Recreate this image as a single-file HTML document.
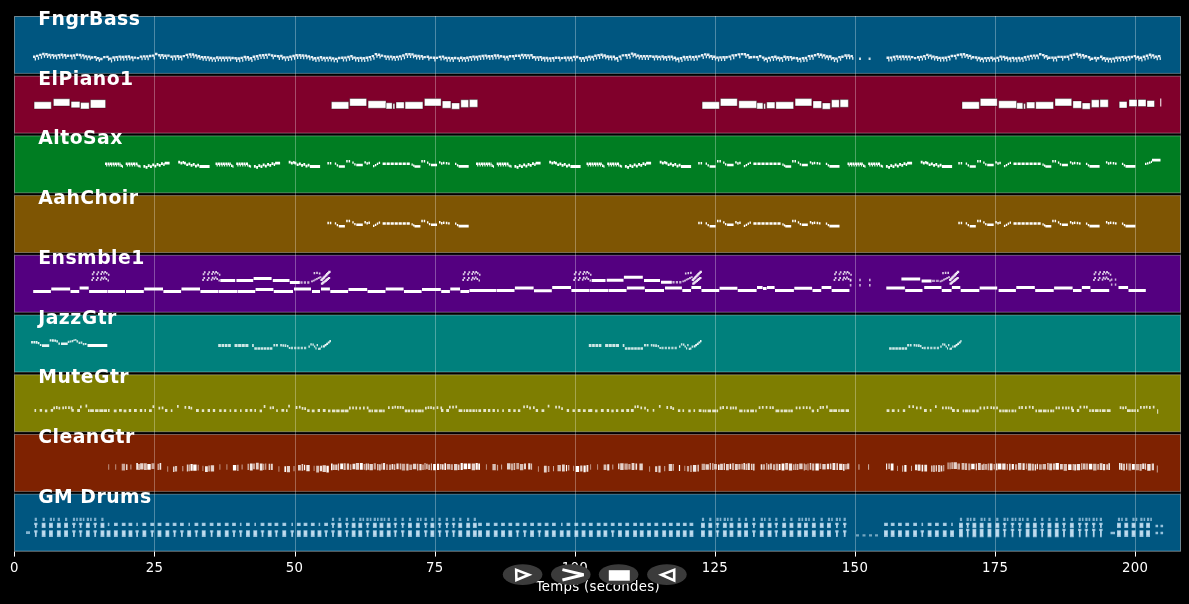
<!DOCTYPE html>
<html lang="fr"><head><meta charset="utf-8"><title>Piano roll</title>
<style>
html,body{margin:0;padding:0;background:#000;overflow:hidden}
svg{display:block;will-change:transform}
text{font-family:"DejaVu Sans","Liberation Sans",sans-serif;fill:#fff}
.lab{font-weight:bold;font-size:18.8px;letter-spacing:.5px}
.tk{font-size:13.3px;text-anchor:middle;letter-spacing:.3px}
</style></head><body>
<svg width="1189" height="604" viewBox="0 0 1189 604">
<rect width="1189" height="604" fill="#000"/>
<g stroke="#fff" stroke-opacity=".32" stroke-width="1">
<rect x="14.5" y="16.5" width="1166" height="56.9" fill="#005680"/>
<rect x="14.5" y="76.2" width="1166" height="56.9" fill="#80002b"/>
<rect x="14.5" y="135.9" width="1166" height="56.9" fill="#007d22"/>
<rect x="14.5" y="195.6" width="1166" height="56.9" fill="#7e5503"/>
<rect x="14.5" y="255.3" width="1166" height="56.9" fill="#540080"/>
<rect x="14.5" y="315.1" width="1166" height="56.9" fill="#00807c"/>
<rect x="14.5" y="374.8" width="1166" height="56.9" fill="#7e7e01"/>
<rect x="14.5" y="434.5" width="1166" height="56.9" fill="#7e2201"/>
<rect x="14.5" y="494.2" width="1166" height="56.9" fill="#005680"/>
</g>
<rect x="14.5" y="16.5" width="1166" height="535" fill="none" stroke="#fff" stroke-opacity=".16"/>
<g stroke="#fff" stroke-opacity=".3" stroke-width="1">
<line x1="154.5" y1="16" x2="154.5" y2="551.6"/>
<line x1="295.5" y1="16" x2="295.5" y2="551.6"/>
<line x1="435.5" y1="16" x2="435.5" y2="551.6"/>
<line x1="575.5" y1="16" x2="575.5" y2="551.6"/>
<line x1="715.5" y1="16" x2="715.5" y2="551.6"/>
<line x1="855.5" y1="16" x2="855.5" y2="551.6"/>
<line x1="995.5" y1="16" x2="995.5" y2="551.6"/>
<line x1="1135.5" y1="16" x2="1135.5" y2="551.6"/>
</g>
<path fill="#fff" fill-opacity=".9" d="M33 55.5h2.5v2.4h-2.5zM34.7 57.8h1.3v2.7h-1.3zM36 54.7h2.5v2.4h-2.5zM37.8 57h1.3v2.7h-1.3zM39.1 53.7h2.5v2.4h-2.5zM40.8 56h1.3v2.7h-1.3zM42.1 52.8h2.5v2.4h-2.5zM43.8 55.1h1.3v2.7h-1.3zM45.2 53.1h2.5v2.4h-2.5zM46.9 55.4h1.3v2.7h-1.3zM48.2 53.8h2.5v2.4h-2.5zM49.9 56h1.3v2.7h-1.3zM51.3 53.9h2.5v2.4h-2.5zM53 56.1h1.3v2.7h-1.3zM54.3 54.4h2.5v2.4h-2.5zM56 56.7h1.3v2.7h-1.3zM57.4 53.9h2.5v2.4h-2.5zM59.1 56.1h1.3v2.7h-1.3zM60.4 53.6h2.5v2.4h-2.5zM62.1 55.9h1.3v2.7h-1.3zM63.5 54.1h2.5v2.4h-2.5zM65.2 56.4h1.3v2.7h-1.3zM66.5 54.5h2.5v2.4h-2.5zM69.6 54.4h2.5v2.4h-2.5zM71.3 56.7h1.3v2.7h-1.3zM72.6 54.3h2.5v2.4h-2.5zM74.3 56.6h1.3v2.7h-1.3zM75.7 53.5h2.5v2.4h-2.5zM78.7 53.8h2.5v2.4h-2.5zM80.4 56.1h1.3v2.7h-1.3zM81.8 54.2h2.5v2.4h-2.5zM83.5 56.5h1.3v2.7h-1.3zM84.8 55.2h2.5v2.4h-2.5zM86.5 57.5h1.3v2.7h-1.3zM87.9 55.4h2.5v2.4h-2.5zM89.6 57.6h1.3v2.7h-1.3zM90.9 56.3h2.5v2.4h-2.5zM94 55.9h2.5v2.4h-2.5zM95.7 58.2h1.3v2.7h-1.3zM97 56.9h2.5v2.4h-2.5zM98.7 59.1h1.3v2.7h-1.3zM100.1 57.8h2.5v2.4h-2.5zM103.1 55.9h2.5v2.4h-2.5zM106.2 55.7h2.5v2.4h-2.5zM107.9 58h1.3v2.7h-1.3zM109.2 57.4h2.5v2.4h-2.5zM110.9 59.7h1.3v2.7h-1.3zM112.3 56.3h2.5v2.4h-2.5zM114 58.5h1.3v2.7h-1.3zM115.3 55.9h2.5v2.4h-2.5zM117 58.2h1.3v2.7h-1.3zM118.4 55.4h2.5v2.4h-2.5zM120.1 57.7h1.3v2.7h-1.3zM121.4 55.8h2.5v2.4h-2.5zM123.1 58.1h1.3v2.7h-1.3zM124.5 55.6h2.5v2.4h-2.5zM126.2 57.9h1.3v2.7h-1.3zM127.5 55.3h2.5v2.4h-2.5zM129.2 57.5h1.3v2.7h-1.3zM130.6 56.2h2.5v2.4h-2.5zM132.3 58.5h1.3v2.7h-1.3zM133.6 56.4h2.5v2.4h-2.5zM136.7 56.9h2.5v2.4h-2.5zM139.7 55.4h2.5v2.4h-2.5zM141.4 57.6h1.3v2.7h-1.3zM142.8 55.2h2.5v2.4h-2.5zM144.5 57.4h1.3v2.7h-1.3zM145.8 55.2h2.5v2.4h-2.5zM147.5 57.5h1.3v2.7h-1.3zM148.9 54.8h2.5v2.4h-2.5zM151.9 54.4h2.5v2.4h-2.5zM153.6 56.7h1.3v2.7h-1.3zM155 52.8h2.5v2.4h-2.5zM158.1 54h2.5v2.4h-2.5zM159.8 56.3h1.3v2.7h-1.3zM161.1 54.1h2.5v2.4h-2.5zM162.8 56.3h1.3v2.7h-1.3zM164.2 54.6h2.5v2.4h-2.5zM165.9 56.9h1.3v2.7h-1.3zM167.2 54.4h2.5v2.4h-2.5zM170.3 55.6h2.5v2.4h-2.5zM172 57.8h1.3v2.7h-1.3zM173.3 55.2h2.5v2.4h-2.5zM175 57.5h1.3v2.7h-1.3zM176.4 55.1h2.5v2.4h-2.5zM178.1 57.4h1.3v2.7h-1.3zM179.4 55.5h2.5v2.4h-2.5zM181.1 57.8h1.3v2.7h-1.3zM182.5 54.9h2.5v2.4h-2.5zM185.5 53.7h2.5v2.4h-2.5zM187.2 55.9h1.3v2.7h-1.3zM188.6 53.2h2.5v2.4h-2.5zM190.3 55.4h1.3v2.7h-1.3zM191.6 53.3h2.5v2.4h-2.5zM193.3 55.6h1.3v2.7h-1.3zM194.7 54.2h2.5v2.4h-2.5zM196.4 56.5h1.3v2.7h-1.3zM197.7 55h2.5v2.4h-2.5zM199.4 57.2h1.3v2.7h-1.3zM200.8 55.9h2.5v2.4h-2.5zM202.5 58.1h1.3v2.7h-1.3zM203.8 56h2.5v2.4h-2.5zM205.5 58.3h1.3v2.7h-1.3zM206.9 56.2h2.5v2.4h-2.5zM208.6 58.5h1.3v2.7h-1.3zM209.9 56.8h2.5v2.4h-2.5zM211.6 59h1.3v2.7h-1.3zM213 57.2h2.5v2.4h-2.5zM214.7 59.4h1.3v2.7h-1.3zM216 56.3h2.5v2.4h-2.5zM217.7 58.6h1.3v2.7h-1.3zM219.1 56.5h2.5v2.4h-2.5zM220.8 58.7h1.3v2.7h-1.3zM222.1 56.5h2.5v2.4h-2.5zM223.8 58.7h1.3v2.7h-1.3zM225.2 56.6h2.5v2.4h-2.5zM226.9 58.8h1.3v2.7h-1.3zM228.2 56.4h2.5v2.4h-2.5zM229.9 58.6h1.3v2.7h-1.3zM231.3 56.8h2.5v2.4h-2.5zM234.3 57h2.5v2.4h-2.5zM236 59.2h1.3v2.7h-1.3zM237.4 57.3h2.5v2.4h-2.5zM239.1 59.5h1.3v2.7h-1.3zM240.4 56.7h2.5v2.4h-2.5zM242.1 59h1.3v2.7h-1.3zM243.5 55.8h2.5v2.4h-2.5zM245.2 58h1.3v2.7h-1.3zM246.5 56h2.5v2.4h-2.5zM248.2 58.2h1.3v2.7h-1.3zM249.6 57.1h2.5v2.4h-2.5zM251.3 59.3h1.3v2.7h-1.3zM252.6 55.6h2.5v2.4h-2.5zM254.3 57.9h1.3v2.7h-1.3zM255.7 55h2.5v2.4h-2.5zM257.4 57.2h1.3v2.7h-1.3zM258.7 54.2h2.5v2.4h-2.5zM260.4 56.4h1.3v2.7h-1.3zM261.8 54h2.5v2.4h-2.5zM263.5 56.3h1.3v2.7h-1.3zM264.8 53.7h2.5v2.4h-2.5zM266.5 56h1.3v2.7h-1.3zM267.9 53.4h2.5v2.4h-2.5zM270.9 54.3h2.5v2.4h-2.5zM272.6 56.6h1.3v2.7h-1.3zM274 54.7h2.5v2.4h-2.5zM277 55.1h2.5v2.4h-2.5zM278.7 57.3h1.3v2.7h-1.3zM280.1 54.8h2.5v2.4h-2.5zM281.8 57.1h1.3v2.7h-1.3zM283.1 56.2h2.5v2.4h-2.5zM284.8 58.5h1.3v2.7h-1.3zM286.2 56.2h2.5v2.4h-2.5zM287.9 58.4h1.3v2.7h-1.3zM289.2 55.5h2.5v2.4h-2.5zM290.9 57.8h1.3v2.7h-1.3zM292.3 54.8h2.5v2.4h-2.5zM294 57.1h1.3v2.7h-1.3zM295.3 54h2.5v2.4h-2.5zM297 56.2h1.3v2.7h-1.3zM298.4 54h2.5v2.4h-2.5zM300.1 56.3h1.3v2.7h-1.3zM301.4 54.3h2.5v2.4h-2.5zM303.1 56.6h1.3v2.7h-1.3zM304.5 54.4h2.5v2.4h-2.5zM306.2 56.6h1.3v2.7h-1.3zM307.5 55.2h2.5v2.4h-2.5zM309.2 57.5h1.3v2.7h-1.3zM310.6 55.9h2.5v2.4h-2.5zM312.3 58.2h1.3v2.7h-1.3zM313.6 57h2.5v2.4h-2.5zM315.3 59.2h1.3v2.7h-1.3zM316.7 56.8h2.5v2.4h-2.5zM318.4 59.1h1.3v2.7h-1.3zM319.7 56.1h2.5v2.4h-2.5zM321.4 58.4h1.3v2.7h-1.3zM322.8 56.8h2.5v2.4h-2.5zM324.5 59.1h1.3v2.7h-1.3zM325.8 56.7h2.5v2.4h-2.5zM327.5 58.9h1.3v2.7h-1.3zM328.9 56.6h2.5v2.4h-2.5zM330.6 58.8h1.3v2.7h-1.3zM331.9 57.2h2.5v2.4h-2.5zM333.6 59.5h1.3v2.7h-1.3zM335 57.7h2.5v2.4h-2.5zM336.7 59.9h1.3v2.7h-1.3zM338 56.8h2.5v2.4h-2.5zM341.1 56.6h2.5v2.4h-2.5zM342.8 58.9h1.3v2.7h-1.3zM344.1 56.4h2.5v2.4h-2.5zM345.8 58.7h1.3v2.7h-1.3zM347.2 55.8h2.5v2.4h-2.5zM348.9 58.1h1.3v2.7h-1.3zM350.2 55.1h2.5v2.4h-2.5zM351.9 57.3h1.3v2.7h-1.3zM353.3 56.4h2.5v2.4h-2.5zM355 58.7h1.3v2.7h-1.3zM356.3 56.9h2.5v2.4h-2.5zM358 59.2h1.3v2.7h-1.3zM359.4 56.7h2.5v2.4h-2.5zM361.1 59h1.3v2.7h-1.3zM362.4 57.1h2.5v2.4h-2.5zM364.1 59.4h1.3v2.7h-1.3zM365.5 56.6h2.5v2.4h-2.5zM367.2 58.8h1.3v2.7h-1.3zM368.5 55.9h2.5v2.4h-2.5zM370.2 58.1h1.3v2.7h-1.3zM371.6 54.9h2.5v2.4h-2.5zM373.3 57.1h1.3v2.7h-1.3zM374.6 52.9h2.5v2.4h-2.5zM376.3 55.1h1.3v2.7h-1.3zM377.7 53.6h2.5v2.4h-2.5zM379.4 55.9h1.3v2.7h-1.3zM380.7 54.4h2.5v2.4h-2.5zM383.8 55.2h2.5v2.4h-2.5zM385.5 57.4h1.3v2.7h-1.3zM386.8 55.4h2.5v2.4h-2.5zM388.5 57.6h1.3v2.7h-1.3zM389.9 55.4h2.5v2.4h-2.5zM391.6 57.7h1.3v2.7h-1.3zM392.9 56.1h2.5v2.4h-2.5zM394.6 58.3h1.3v2.7h-1.3zM396 55.7h2.5v2.4h-2.5zM397.7 57.9h1.3v2.7h-1.3zM399 55.2h2.5v2.4h-2.5zM400.7 57.5h1.3v2.7h-1.3zM402.1 54.3h2.5v2.4h-2.5zM403.8 56.5h1.3v2.7h-1.3zM405.1 53.1h2.5v2.4h-2.5zM406.8 55.3h1.3v2.7h-1.3zM408.2 53h2.5v2.4h-2.5zM409.9 55.3h1.3v2.7h-1.3zM411.2 53.2h2.5v2.4h-2.5zM412.9 55.5h1.3v2.7h-1.3zM414.3 54.6h2.5v2.4h-2.5zM416 56.9h1.3v2.7h-1.3zM417.3 54.8h2.5v2.4h-2.5zM419 57h1.3v2.7h-1.3zM420.4 55.1h2.5v2.4h-2.5zM422.1 57.3h1.3v2.7h-1.3zM423.4 55.9h2.5v2.4h-2.5zM426.5 55.5h2.5v2.4h-2.5zM428.2 57.7h1.3v2.7h-1.3zM429.5 56.4h2.5v2.4h-2.5zM432.6 56.6h2.5v2.4h-2.5zM434.3 58.9h1.3v2.7h-1.3zM435.6 56.7h2.5v2.4h-2.5zM438.7 55.7h2.5v2.4h-2.5zM440.4 57.9h1.3v2.7h-1.3zM441.7 55.4h2.5v2.4h-2.5zM443.4 57.6h1.3v2.7h-1.3zM444.8 56.7h2.5v2.4h-2.5zM446.5 59h1.3v2.7h-1.3zM447.8 56.7h2.5v2.4h-2.5zM449.5 59h1.3v2.7h-1.3zM450.9 57h2.5v2.4h-2.5zM452.6 59.3h1.3v2.7h-1.3zM453.9 56.8h2.5v2.4h-2.5zM457 57.2h2.5v2.4h-2.5zM458.7 59.4h1.3v2.7h-1.3zM460 56.6h2.5v2.4h-2.5zM461.7 58.9h1.3v2.7h-1.3zM463.1 57.1h2.5v2.4h-2.5zM464.8 59.4h1.3v2.7h-1.3zM466.1 56.6h2.5v2.4h-2.5zM467.8 58.8h1.3v2.7h-1.3zM469.2 55.9h2.5v2.4h-2.5zM470.9 58.2h1.3v2.7h-1.3zM472.2 55.4h2.5v2.4h-2.5zM473.9 57.7h1.3v2.7h-1.3zM475.3 55.8h2.5v2.4h-2.5zM477 58h1.3v2.7h-1.3zM478.3 55.2h2.5v2.4h-2.5zM480 57.4h1.3v2.7h-1.3zM481.4 54.8h2.5v2.4h-2.5zM483.1 57.1h1.3v2.7h-1.3zM484.4 54.4h2.5v2.4h-2.5zM486.1 56.6h1.3v2.7h-1.3zM487.5 55h2.5v2.4h-2.5zM489.2 57.3h1.3v2.7h-1.3zM490.5 54.9h2.5v2.4h-2.5zM492.2 57.1h1.3v2.7h-1.3zM493.6 54.3h2.5v2.4h-2.5zM495.3 56.6h1.3v2.7h-1.3zM496.6 54.3h2.5v2.4h-2.5zM498.3 56.5h1.3v2.7h-1.3zM499.7 55.1h2.5v2.4h-2.5zM502.7 55.5h2.5v2.4h-2.5zM504.4 57.8h1.3v2.7h-1.3zM505.8 55.8h2.5v2.4h-2.5zM507.5 58h1.3v2.7h-1.3zM508.8 55h2.5v2.4h-2.5zM511.9 55.1h2.5v2.4h-2.5zM513.6 57.4h1.3v2.7h-1.3zM514.9 54.6h2.5v2.4h-2.5zM518 54.5h2.5v2.4h-2.5zM519.7 56.7h1.3v2.7h-1.3zM521 53.8h2.5v2.4h-2.5zM522.7 56h1.3v2.7h-1.3zM524.1 54h2.5v2.4h-2.5zM525.8 56.2h1.3v2.7h-1.3zM527.1 54.2h2.5v2.4h-2.5zM528.8 56.5h1.3v2.7h-1.3zM530.2 54.1h2.5v2.4h-2.5zM531.9 56.3h1.3v2.7h-1.3zM533.2 55.9h2.5v2.4h-2.5zM534.9 58.1h1.3v2.7h-1.3zM536.3 56.2h2.5v2.4h-2.5zM538 58.4h1.3v2.7h-1.3zM539.3 55.9h2.5v2.4h-2.5zM541 58.2h1.3v2.7h-1.3zM542.4 56.8h2.5v2.4h-2.5zM544.1 59h1.3v2.7h-1.3zM545.4 56.8h2.5v2.4h-2.5zM547.1 59h1.3v2.7h-1.3zM548.5 57.2h2.5v2.4h-2.5zM550.2 59.4h1.3v2.7h-1.3zM551.5 56.9h2.5v2.4h-2.5zM553.2 59.1h1.3v2.7h-1.3zM554.6 56.6h2.5v2.4h-2.5zM557.6 56.6h2.5v2.4h-2.5zM559.3 58.9h1.3v2.7h-1.3zM560.7 56.9h2.5v2.4h-2.5zM563.7 56.6h2.5v2.4h-2.5zM565.4 58.8h1.3v2.7h-1.3zM566.8 56.4h2.5v2.4h-2.5zM568.5 58.6h1.3v2.7h-1.3zM569.8 56.6h2.5v2.4h-2.5zM571.5 58.9h1.3v2.7h-1.3zM572.9 55.7h2.5v2.4h-2.5zM574.6 58h1.3v2.7h-1.3zM575.9 55.8h2.5v2.4h-2.5zM579 57.1h2.5v2.4h-2.5zM580.7 59.4h1.3v2.7h-1.3zM582 57.1h2.5v2.4h-2.5zM583.7 59.3h1.3v2.7h-1.3zM585.1 56.3h2.5v2.4h-2.5zM586.8 58.5h1.3v2.7h-1.3zM588.1 55.5h2.5v2.4h-2.5zM589.8 57.7h1.3v2.7h-1.3zM591.2 55.8h2.5v2.4h-2.5zM592.9 58.1h1.3v2.7h-1.3zM594.2 54.6h2.5v2.4h-2.5zM595.9 56.9h1.3v2.7h-1.3zM597.3 54.1h2.5v2.4h-2.5zM599 56.3h1.3v2.7h-1.3zM600.3 53.6h2.5v2.4h-2.5zM602 55.8h1.3v2.7h-1.3zM603.4 54.3h2.5v2.4h-2.5zM605.1 56.6h1.3v2.7h-1.3zM606.4 55.3h2.5v2.4h-2.5zM608.1 57.6h1.3v2.7h-1.3zM609.4 55.5h2.5v2.4h-2.5zM611.1 57.7h1.3v2.7h-1.3zM612.5 55.6h2.5v2.4h-2.5zM614.2 57.9h1.3v2.7h-1.3zM615.5 57h2.5v2.4h-2.5zM617.2 59.2h1.3v2.7h-1.3zM618.6 55.4h2.5v2.4h-2.5zM620.3 57.6h1.3v2.7h-1.3zM621.6 54.2h2.5v2.4h-2.5zM624.7 54h2.5v2.4h-2.5zM626.4 56.3h1.3v2.7h-1.3zM627.7 53.7h2.5v2.4h-2.5zM629.4 56h1.3v2.7h-1.3zM630.8 52.4h2.5v2.4h-2.5zM632.5 54.6h1.3v2.7h-1.3zM633.8 53.3h2.5v2.4h-2.5zM635.5 55.5h1.3v2.7h-1.3zM636.9 54.4h2.5v2.4h-2.5zM638.6 56.7h1.3v2.7h-1.3zM639.9 55h2.5v2.4h-2.5zM641.6 57.2h1.3v2.7h-1.3zM643 55h2.5v2.4h-2.5zM644.7 57.3h1.3v2.7h-1.3zM646 54.9h2.5v2.4h-2.5zM647.7 57.2h1.3v2.7h-1.3zM649.1 55.1h2.5v2.4h-2.5zM652.1 55.6h2.5v2.4h-2.5zM653.8 57.8h1.3v2.7h-1.3zM655.2 55.3h2.5v2.4h-2.5zM656.9 57.5h1.3v2.7h-1.3zM658.2 55.7h2.5v2.4h-2.5zM659.9 57.9h1.3v2.7h-1.3zM661.3 55.3h2.5v2.4h-2.5zM663 57.5h1.3v2.7h-1.3zM664.3 56h2.5v2.4h-2.5zM666 58.3h1.3v2.7h-1.3zM667.4 55.6h2.5v2.4h-2.5zM669.1 57.9h1.3v2.7h-1.3zM670.4 55.6h2.5v2.4h-2.5zM672.1 57.9h1.3v2.7h-1.3zM673.5 56.5h2.5v2.4h-2.5zM675.2 58.7h1.3v2.7h-1.3zM676.5 57.5h2.5v2.4h-2.5zM678.2 59.8h1.3v2.7h-1.3zM679.6 57.1h2.5v2.4h-2.5zM681.3 59.3h1.3v2.7h-1.3zM682.6 55.8h2.5v2.4h-2.5zM684.3 58.1h1.3v2.7h-1.3zM685.7 56.1h2.5v2.4h-2.5zM687.4 58.4h1.3v2.7h-1.3zM688.7 55.6h2.5v2.4h-2.5zM690.4 57.9h1.3v2.7h-1.3zM691.8 55.9h2.5v2.4h-2.5zM693.5 58.2h1.3v2.7h-1.3zM694.8 55.5h2.5v2.4h-2.5zM696.5 57.8h1.3v2.7h-1.3zM697.9 55.2h2.5v2.4h-2.5zM700.9 54h2.5v2.4h-2.5zM702.6 56.3h1.3v2.7h-1.3zM704 53.2h2.5v2.4h-2.5zM705.7 55.5h1.3v2.7h-1.3zM707 53.5h2.5v2.4h-2.5zM708.7 55.7h1.3v2.7h-1.3zM710.1 55h2.5v2.4h-2.5zM711.8 57.2h1.3v2.7h-1.3zM713.1 55.5h2.5v2.4h-2.5zM714.8 57.8h1.3v2.7h-1.3zM716.2 56.4h2.5v2.4h-2.5zM717.9 58.7h1.3v2.7h-1.3zM719.2 56.2h2.5v2.4h-2.5zM720.9 58.4h1.3v2.7h-1.3zM722.3 56h2.5v2.4h-2.5zM724 58.3h1.3v2.7h-1.3zM725.3 56.1h2.5v2.4h-2.5zM728.4 55.4h2.5v2.4h-2.5zM730.1 57.6h1.3v2.7h-1.3zM731.4 54.2h2.5v2.4h-2.5zM733.1 56.5h1.3v2.7h-1.3zM734.5 54.1h2.5v2.4h-2.5zM737.5 53.2h2.5v2.4h-2.5zM739.2 55.5h1.3v2.7h-1.3zM740.6 52.9h2.5v2.4h-2.5zM743.6 53h2.5v2.4h-2.5zM745.3 55.3h1.3v2.7h-1.3zM746.7 53.9h2.5v2.4h-2.5zM748.4 56.2h1.3v2.7h-1.3zM749.7 56.1h2.5v2.4h-2.5zM752.8 55.8h2.5v2.4h-2.5zM755.8 55.9h2.5v2.4h-2.5zM757.5 58.2h1.3v2.7h-1.3zM758.9 55.1h2.5v2.4h-2.5zM761.9 56.4h2.5v2.4h-2.5zM763.6 58.6h1.3v2.7h-1.3zM765 57.6h2.5v2.4h-2.5zM766.7 59.8h1.3v2.7h-1.3zM768 56.7h2.5v2.4h-2.5zM769.7 58.9h1.3v2.7h-1.3zM771.1 55.9h2.5v2.4h-2.5zM772.8 58.2h1.3v2.7h-1.3zM774.1 55.5h2.5v2.4h-2.5zM775.8 57.8h1.3v2.7h-1.3zM777.2 56.5h2.5v2.4h-2.5zM778.9 58.7h1.3v2.7h-1.3zM780.2 56.9h2.5v2.4h-2.5zM781.9 59.2h1.3v2.7h-1.3zM783.3 55.6h2.5v2.4h-2.5zM785 57.9h1.3v2.7h-1.3zM786.3 56h2.5v2.4h-2.5zM788 58.2h1.3v2.7h-1.3zM789.4 55.9h2.5v2.4h-2.5zM791.1 58.1h1.3v2.7h-1.3zM792.4 56.8h2.5v2.4h-2.5zM795.5 57.1h2.5v2.4h-2.5zM797.2 59.4h1.3v2.7h-1.3zM798.5 57.7h2.5v2.4h-2.5zM800.2 59.9h1.3v2.7h-1.3zM801.6 57h2.5v2.4h-2.5zM803.3 59.2h1.3v2.7h-1.3zM804.6 56.8h2.5v2.4h-2.5zM806.3 59h1.3v2.7h-1.3zM807.7 54.9h2.5v2.4h-2.5zM809.4 57.2h1.3v2.7h-1.3zM810.7 54.8h2.5v2.4h-2.5zM812.4 57h1.3v2.7h-1.3zM813.8 54.1h2.5v2.4h-2.5zM816.8 53h2.5v2.4h-2.5zM818.5 55.3h1.3v2.7h-1.3zM819.9 53.5h2.5v2.4h-2.5zM821.6 55.8h1.3v2.7h-1.3zM822.9 54.2h2.5v2.4h-2.5zM824.6 56.5h1.3v2.7h-1.3zM826 55.3h2.5v2.4h-2.5zM827.7 57.6h1.3v2.7h-1.3zM829 55.3h2.5v2.4h-2.5zM830.7 57.5h1.3v2.7h-1.3zM832.1 56.9h2.5v2.4h-2.5zM833.8 59.2h1.3v2.7h-1.3zM835.1 57.4h2.5v2.4h-2.5zM836.8 59.7h1.3v2.7h-1.3zM838.2 55.9h2.5v2.4h-2.5zM839.9 58.1h1.3v2.7h-1.3zM841.2 55.6h2.5v2.4h-2.5zM844.3 54.3h2.5v2.4h-2.5zM846 56.5h1.3v2.7h-1.3zM847.3 54.3h2.5v2.4h-2.5zM849 56.5h1.3v2.7h-1.3zM850.4 54.9h2.5v2.4h-2.5zM852.1 57.1h1.3v2.7h-1.3zM886.5 56.6h2.5v2.4h-2.5zM888.2 58.9h1.3v2.7h-1.3zM889.5 56.4h2.5v2.4h-2.5zM891.2 58.7h1.3v2.7h-1.3zM892.6 55.8h2.5v2.4h-2.5zM894.3 58.1h1.3v2.7h-1.3zM895.6 55.2h2.5v2.4h-2.5zM897.3 57.4h1.3v2.7h-1.3zM898.7 55.6h2.5v2.4h-2.5zM900.4 57.9h1.3v2.7h-1.3zM901.7 55.3h2.5v2.4h-2.5zM903.4 57.5h1.3v2.7h-1.3zM904.8 55.6h2.5v2.4h-2.5zM906.5 57.9h1.3v2.7h-1.3zM907.8 55.4h2.5v2.4h-2.5zM909.5 57.7h1.3v2.7h-1.3zM910.9 55.9h2.5v2.4h-2.5zM913.9 56.9h2.5v2.4h-2.5zM917 56.1h2.5v2.4h-2.5zM918.7 58.4h1.3v2.7h-1.3zM920 55.7h2.5v2.4h-2.5zM921.7 57.9h1.3v2.7h-1.3zM923.1 55h2.5v2.4h-2.5zM924.8 57.2h1.3v2.7h-1.3zM926.1 53.7h2.5v2.4h-2.5zM927.8 56h1.3v2.7h-1.3zM929.2 54.4h2.5v2.4h-2.5zM930.9 56.7h1.3v2.7h-1.3zM932.2 55.4h2.5v2.4h-2.5zM933.9 57.7h1.3v2.7h-1.3zM935.3 56h2.5v2.4h-2.5zM937 58.2h1.3v2.7h-1.3zM938.3 56.7h2.5v2.4h-2.5zM940 59h1.3v2.7h-1.3zM941.4 56.7h2.5v2.4h-2.5zM943.1 58.9h1.3v2.7h-1.3zM944.4 56.5h2.5v2.4h-2.5zM946.1 58.7h1.3v2.7h-1.3zM947.5 55.7h2.5v2.4h-2.5zM949.2 57.9h1.3v2.7h-1.3zM950.5 54.8h2.5v2.4h-2.5zM953.6 54.7h2.5v2.4h-2.5zM955.3 56.9h1.3v2.7h-1.3zM956.6 53.8h2.5v2.4h-2.5zM959.7 53.3h2.5v2.4h-2.5zM961.4 55.6h1.3v2.7h-1.3zM962.7 53.1h2.5v2.4h-2.5zM964.4 55.4h1.3v2.7h-1.3zM965.8 54h2.5v2.4h-2.5zM967.5 56.3h1.3v2.7h-1.3zM968.8 54.7h2.5v2.4h-2.5zM970.5 57h1.3v2.7h-1.3zM971.9 56.1h2.5v2.4h-2.5zM974.9 56.3h2.5v2.4h-2.5zM976.6 58.6h1.3v2.7h-1.3zM978 56.8h2.5v2.4h-2.5zM979.7 59.1h1.3v2.7h-1.3zM981 57.5h2.5v2.4h-2.5zM982.7 59.7h1.3v2.7h-1.3zM984.1 56.9h2.5v2.4h-2.5zM985.8 59.2h1.3v2.7h-1.3zM987.1 56.9h2.5v2.4h-2.5zM988.8 59.1h1.3v2.7h-1.3zM990.2 56.5h2.5v2.4h-2.5zM991.9 58.8h1.3v2.7h-1.3zM993.2 57.4h2.5v2.4h-2.5zM994.9 59.6h1.3v2.7h-1.3zM996.3 56.7h2.5v2.4h-2.5zM998 59h1.3v2.7h-1.3zM999.3 55.4h2.5v2.4h-2.5zM1001 57.7h1.3v2.7h-1.3zM1002.4 55.7h2.5v2.4h-2.5zM1004.1 58h1.3v2.7h-1.3zM1005.4 56.6h2.5v2.4h-2.5zM1007.1 58.8h1.3v2.7h-1.3zM1008.5 57.3h2.5v2.4h-2.5zM1010.2 59.5h1.3v2.7h-1.3zM1011.5 56.7h2.5v2.4h-2.5zM1013.2 59h1.3v2.7h-1.3zM1014.6 57.2h2.5v2.4h-2.5zM1016.3 59.5h1.3v2.7h-1.3zM1017.6 56.8h2.5v2.4h-2.5zM1019.3 59h1.3v2.7h-1.3zM1020.7 57.2h2.5v2.4h-2.5zM1022.4 59.4h1.3v2.7h-1.3zM1023.7 56.1h2.5v2.4h-2.5zM1025.4 58.3h1.3v2.7h-1.3zM1026.8 55.4h2.5v2.4h-2.5zM1028.5 57.7h1.3v2.7h-1.3zM1029.8 54.7h2.5v2.4h-2.5zM1031.5 56.9h1.3v2.7h-1.3zM1032.9 54.4h2.5v2.4h-2.5zM1034.6 56.6h1.3v2.7h-1.3zM1035.9 54.4h2.5v2.4h-2.5zM1037.6 56.6h1.3v2.7h-1.3zM1039 53h2.5v2.4h-2.5zM1042 53.9h2.5v2.4h-2.5zM1043.7 56.1h1.3v2.7h-1.3zM1045.1 55.1h2.5v2.4h-2.5zM1046.8 57.4h1.3v2.7h-1.3zM1048.1 56.5h2.5v2.4h-2.5zM1051.2 56.4h2.5v2.4h-2.5zM1052.9 58.7h1.3v2.7h-1.3zM1054.2 56.6h2.5v2.4h-2.5zM1055.9 58.8h1.3v2.7h-1.3zM1057.3 55.7h2.5v2.4h-2.5zM1060.3 55.7h2.5v2.4h-2.5zM1062 58h1.3v2.7h-1.3zM1063.4 55.8h2.5v2.4h-2.5zM1066.4 55.5h2.5v2.4h-2.5zM1068.1 57.8h1.3v2.7h-1.3zM1069.5 54.2h2.5v2.4h-2.5zM1071.2 56.4h1.3v2.7h-1.3zM1072.5 53.5h2.5v2.4h-2.5zM1075.6 52.8h2.5v2.4h-2.5zM1077.3 55h1.3v2.7h-1.3zM1078.6 53.6h2.5v2.4h-2.5zM1080.3 55.9h1.3v2.7h-1.3zM1081.7 54h2.5v2.4h-2.5zM1083.4 56.2h1.3v2.7h-1.3zM1084.7 55h2.5v2.4h-2.5zM1087.8 56.1h2.5v2.4h-2.5zM1089.5 58.4h1.3v2.7h-1.3zM1090.8 57.6h2.5v2.4h-2.5zM1093.9 56.8h2.5v2.4h-2.5zM1095.6 59.1h1.3v2.7h-1.3zM1096.9 57h2.5v2.4h-2.5zM1100 55.6h2.5v2.4h-2.5zM1101.7 57.9h1.3v2.7h-1.3zM1103 57h2.5v2.4h-2.5zM1104.7 59.2h1.3v2.7h-1.3zM1106.1 57.6h2.5v2.4h-2.5zM1107.8 59.8h1.3v2.7h-1.3zM1109.1 57.7h2.5v2.4h-2.5zM1110.8 60h1.3v2.7h-1.3zM1112.2 57.4h2.5v2.4h-2.5zM1113.9 59.7h1.3v2.7h-1.3zM1115.2 56.6h2.5v2.4h-2.5zM1116.9 58.9h1.3v2.7h-1.3zM1118.3 56.6h2.5v2.4h-2.5zM1120 58.9h1.3v2.7h-1.3zM1121.3 55.9h2.5v2.4h-2.5zM1123 58.2h1.3v2.7h-1.3zM1124.4 56.5h2.5v2.4h-2.5zM1126.1 58.7h1.3v2.7h-1.3zM1127.4 55.7h2.5v2.4h-2.5zM1129.1 57.9h1.3v2.7h-1.3zM1130.5 55.8h2.5v2.4h-2.5zM1133.5 54.9h2.5v2.4h-2.5zM1135.2 57.2h1.3v2.7h-1.3zM1136.6 55.8h2.5v2.4h-2.5zM1138.3 58.1h1.3v2.7h-1.3zM1139.6 56.6h2.5v2.4h-2.5zM1141.3 58.8h1.3v2.7h-1.3zM1142.7 55.5h2.5v2.4h-2.5zM1144.4 57.8h1.3v2.7h-1.3zM1145.7 54.6h2.5v2.4h-2.5zM1147.4 56.8h1.3v2.7h-1.3zM1148.8 53.6h2.5v2.4h-2.5zM1150.5 55.8h1.3v2.7h-1.3zM1151.8 54.2h2.5v2.4h-2.5zM1153.5 56.4h1.3v2.7h-1.3zM1154.9 55.4h2.5v2.4h-2.5zM1156.6 57.6h1.3v2.7h-1.3zM1157.9 54.9h2.5v2.4h-2.5zM1159.6 57.2h1.3v2.7h-1.3zM1160.2 98.5h1.1v8h-1.1zM106.1 164.3h1.2v2.1h-1.2zM108.5 164.3h1.2v2.1h-1.2zM111 164.3h1.2v2.1h-1.2zM113.5 164.3h1.2v2.1h-1.2zM115.9 164.3h1.2v2.1h-1.2zM118.4 164.3h1.2v2.1h-1.2zM120.8 164.3h.4v2.1h-.4zM126.8 164.3h1.2v2.1h-1.2zM129.2 164.3h1.2v2.1h-1.2zM131.7 164.3h1.2v2.1h-1.2zM134.1 164.3h1.2v2.1h-1.2zM136.6 164.3h1.2v2.1h-1.2zM216.6 164.3h1.2v2.1h-1.2zM219 164.3h1.2v2.1h-1.2zM221.5 164.3h1.2v2.1h-1.2zM223.9 164.3h1.2v2.1h-1.2zM226.4 164.3h1.2v2.1h-1.2zM228.8 164.3h1.2v2.1h-1.2zM231.3 164.3h.4v2.1h-.4zM237.3 164.3h1.2v2.1h-1.2zM239.7 164.3h1.2v2.1h-1.2zM242.2 164.3h1.2v2.1h-1.2zM244.6 164.3h1.2v2.1h-1.2zM247.1 164.3h1.2v2.1h-1.2zM477.1 164.3h1.2v2.1h-1.2zM479.6 164.3h1.2v2.1h-1.2zM482 164.3h1.2v2.1h-1.2zM484.4 164.3h1.2v2.1h-1.2zM486.9 164.3h1.2v2.1h-1.2zM489.3 164.3h1.2v2.1h-1.2zM491.8 164.3h.4v2.1h-.4zM497.8 164.3h1.2v2.1h-1.2zM500.2 164.3h1.2v2.1h-1.2zM502.7 164.3h1.2v2.1h-1.2zM505.1 164.3h1.2v2.1h-1.2zM507.6 164.3h1.2v2.1h-1.2zM587.6 164.3h1.2v2.1h-1.2zM590.1 164.3h1.2v2.1h-1.2zM592.5 164.3h1.2v2.1h-1.2zM595 164.3h1.2v2.1h-1.2zM597.4 164.3h1.2v2.1h-1.2zM599.9 164.3h1.2v2.1h-1.2zM602.3 164.3h.4v2.1h-.4zM608.3 164.3h1.2v2.1h-1.2zM610.8 164.3h1.2v2.1h-1.2zM613.2 164.3h1.2v2.1h-1.2zM615.7 164.3h1.2v2.1h-1.2zM618.1 164.3h1.2v2.1h-1.2zM848.6 164.3h1.2v2.1h-1.2zM851.1 164.3h1.2v2.1h-1.2zM853.5 164.3h1.2v2.1h-1.2zM856 164.3h1.2v2.1h-1.2zM858.4 164.3h1.2v2.1h-1.2zM860.9 164.3h1.2v2.1h-1.2zM863.3 164.3h.4v2.1h-.4zM869.3 164.3h1.2v2.1h-1.2zM871.8 164.3h1.2v2.1h-1.2zM874.2 164.3h1.2v2.1h-1.2zM876.7 164.3h1.2v2.1h-1.2zM879.1 164.3h1.2v2.1h-1.2zM320.4 278.8h2.4v2.1h-2.4zM321.5 277.7h2.4v2.1h-2.4zM322.6 276.6h2.4v2.1h-2.4zM323.7 275.4h2.4v2.1h-2.4zM324.9 274.3h2.4v2.1h-2.4zM326 273.1h2.4v2.1h-2.4zM327.1 272h2.4v2.1h-2.4zM328.2 270.8h2.4v2.1h-2.4zM320.9 282.6h2.4v2.1h-2.4zM322 281.6h2.4v2.1h-2.4zM323.2 280.7h2.4v2.1h-2.4zM324.4 279.8h2.4v2.1h-2.4zM325.5 278.8h2.4v2.1h-2.4zM326.6 277.9h2.4v2.1h-2.4zM327.8 276.9h2.4v2.1h-2.4zM691.7 278.8h2.4v2.1h-2.4zM692.8 277.7h2.4v2.1h-2.4zM693.9 276.6h2.4v2.1h-2.4zM695 275.4h2.4v2.1h-2.4zM696.2 274.3h2.4v2.1h-2.4zM697.3 273.1h2.4v2.1h-2.4zM698.4 272h2.4v2.1h-2.4zM699.5 270.8h2.4v2.1h-2.4zM692.2 282.6h2.4v2.1h-2.4zM693.3 281.6h2.4v2.1h-2.4zM694.5 280.7h2.4v2.1h-2.4zM695.6 279.8h2.4v2.1h-2.4zM696.8 278.8h2.4v2.1h-2.4zM697.9 277.9h2.4v2.1h-2.4zM699.1 276.9h2.4v2.1h-2.4zM949 278.8h2.4v2.1h-2.4zM950.1 277.7h2.4v2.1h-2.4zM951.2 276.6h2.4v2.1h-2.4zM952.3 275.4h2.4v2.1h-2.4zM953.5 274.3h2.4v2.1h-2.4zM954.6 273.1h2.4v2.1h-2.4zM955.7 272h2.4v2.1h-2.4zM956.8 270.8h2.4v2.1h-2.4zM949.5 282.6h2.4v2.1h-2.4zM950.6 281.6h2.4v2.1h-2.4zM951.8 280.7h2.4v2.1h-2.4zM953 279.8h2.4v2.1h-2.4zM954.1 278.8h2.4v2.1h-2.4zM955.2 277.9h2.4v2.1h-2.4zM956.4 276.9h2.4v2.1h-2.4zM31.1 340.9h1.8v2.6h-1.8zM33.4 341h1.8v2.6h-1.8zM35.7 341.1h1.8v2.6h-1.8zM37.9 342.1h1.5v2.2h-1.5zM39.9 343.9h1.5v2.2h-1.5zM42 344.2h7.2v2.7h-7.2zM49.7 339.2h1.8v2.4h-1.8zM52 339.3h1.8v2.4h-1.8zM54.3 339.4h1.8v2.4h-1.8zM56.4 340.3h1.5v2.2h-1.5zM58.4 342.5h1.5v2.2h-1.5zM61 342.6h6.7v2.5h-6.7zM323 345.3h1.9v2.2h-1.9zM324.6 344h1.9v2.2h-1.9zM326.2 342.7h1.9v2.2h-1.9zM327.8 341.4h1.9v2.2h-1.9zM329.4 340.1h1.5v2.2h-1.5zM693.6 345.3h1.9v2.2h-1.9zM695.2 344h1.9v2.2h-1.9zM696.8 342.7h1.9v2.2h-1.9zM698.4 341.4h1.9v2.2h-1.9zM700 340.1h1.5v2.2h-1.5zM954 345.3h1.9v2.2h-1.9zM955.6 344h1.9v2.2h-1.9zM957.2 342.7h1.9v2.2h-1.9zM958.8 341.4h1.9v2.2h-1.9zM960.4 340.1h1.1v2.2h-1.1zM159.6 462.9h1.6v6.8h-1.6zM205 466.3h2.8v5.6h-2.8zM249.9 463.6h2.8v6.8h-2.8zM259.8 463.6h2.8v6.8h-2.8zM268.7 463.8h1.2v6.2h-1.2zM306.3 465.1h3.4v6.2h-3.4zM319.8 465.7h2.2v5.6h-2.2zM352.5 463.7h2.8v5.6h-2.8zM365.7 463.4h1.2v6.8h-1.2zM382.9 462.9h2.2v6.8h-2.2zM391.6 464h1.6v5.6h-1.6zM396.4 463.6h2.2v5.6h-2.2zM419.4 464h2.2v6.2h-2.2zM442 464.2h1.6v5.6h-1.6zM524.1 463.6h1.8v5.6h-1.8zM528.2 463.3h2.2v6.2h-2.2zM586.5 465h1.8v6.8h-1.8zM607.2 464.2h2.1v6.2h-2.1zM635.5 463.5h1.6v6.2h-1.6zM692.9 464.9h3.4v6.8h-3.4zM723.7 463.3h1.2v6.8h-1.2zM743.4 463h1.6v6.8h-1.6zM747.6 463.3h2.2v6.8h-2.2zM760.7 464.2h1.6v5.6h-1.6zM788.8 463.6h3.4v6.8h-3.4zM826.8 463.7h2.2v5.6h-2.2zM832.5 463.1h2.8v6.8h-2.8zM839.1 463.8h3.4v6.2h-3.4zM843 463.9h1.6v6.8h-1.6zM886 463.6h1.2v6.2h-1.2zM915 464.6h2.2v5.6h-2.2zM917.7 464.6h2.8v6.2h-2.8zM924.3 464.7h2.8v6.8h-2.8zM935.7 465.2h1.2v6.2h-1.2zM940.7 465.4h1.6v6.2h-1.6zM951.5 462.3h1.2v6.8h-1.2zM975.7 463.5h1.2v6.8h-1.2zM981.6 464.5h1.2v5.6h-1.2zM983.3 463.8h1.2v6.2h-1.2zM989.7 463.5h2.8v6.8h-2.8zM995.9 463.4h1.6v6.8h-1.6zM1002.2 463.5h3.4v6.2h-3.4zM1022.5 463.3h2.2v6.8h-2.2zM1076.7 464.1h3.4v6.2h-3.4zM1083.2 463.4h1.6v6.2h-1.6zM1103 464.1h2.2v6.2h-2.2zM1108.4 463.2h1.6v6.8h-1.6zM1119 463h1.6v6.8h-1.6zM1126.1 463.5h1.2v6.2h-1.2zM1142.2 463.5h2.2v5.6h-2.2zM1147.2 463.9h3.4v6.8h-3.4z"/>
<path fill="#fff" fill-opacity=".8" d="M859 57.6h2v2.4h-2zM868.6 57.6h2v2.4h-2zM91.8 273.2h1.7v2h-1.7zM93 271.2h1.7v2h-1.7zM96.3 273.2h1.7v2h-1.7zM97.5 271.2h1.7v2h-1.7zM100.4 273h1.6v2h-1.6zM101.4 271.1h1.8v2h-1.8zM104.3 270.9h1.8v2h-1.8zM106 272.2h1.6v2h-1.6zM108 273.8h1.5v2h-1.5zM91.3 278.9h1.7v2h-1.7zM92.5 276.9h1.7v2h-1.7zM95.8 278.9h1.7v2h-1.7zM97 276.9h1.7v2h-1.7zM99.9 278.7h1.6v2h-1.6zM100.9 276.8h1.8v2h-1.8zM103.8 276.6h1.8v2h-1.8zM105.5 277.9h1.6v2h-1.6zM107.5 279.5h1.5v2h-1.5zM202.7 273.2h1.7v2h-1.7zM203.9 271.2h1.7v2h-1.7zM207.2 273.2h1.7v2h-1.7zM208.4 271.2h1.7v2h-1.7zM211.3 273h1.6v2h-1.6zM212.3 271.1h1.8v2h-1.8zM215.2 270.9h1.8v2h-1.8zM216.9 272.2h1.6v2h-1.6zM218.9 273.8h1.5v2h-1.5zM202.2 278.9h1.7v2h-1.7zM203.4 276.9h1.7v2h-1.7zM206.7 278.9h1.7v2h-1.7zM207.9 276.9h1.7v2h-1.7zM210.8 278.7h1.6v2h-1.6zM211.8 276.8h1.8v2h-1.8zM214.7 276.6h1.8v2h-1.8zM216.4 277.9h1.6v2h-1.6zM218.4 279.5h1.5v2h-1.5zM462.8 273.2h1.7v2h-1.7zM464 271.2h1.7v2h-1.7zM467.3 273.2h1.7v2h-1.7zM468.5 271.2h1.7v2h-1.7zM471.4 273h1.6v2h-1.6zM472.4 271.1h1.8v2h-1.8zM475.3 270.9h1.8v2h-1.8zM477 272.2h1.6v2h-1.6zM479 273.8h1.5v2h-1.5zM462.3 278.9h1.7v2h-1.7zM463.5 276.9h1.7v2h-1.7zM466.8 278.9h1.7v2h-1.7zM468 276.9h1.7v2h-1.7zM470.9 278.7h1.6v2h-1.6zM471.9 276.8h1.8v2h-1.8zM474.8 276.6h1.8v2h-1.8zM476.5 277.9h1.6v2h-1.6zM478.5 279.5h1.5v2h-1.5zM573.8 273.2h1.7v2h-1.7zM575 271.2h1.7v2h-1.7zM578.3 273.2h1.7v2h-1.7zM579.5 271.2h1.7v2h-1.7zM582.4 273h1.6v2h-1.6zM583.4 271.1h1.8v2h-1.8zM586.3 270.9h1.8v2h-1.8zM588 272.2h1.6v2h-1.6zM590 273.8h1.5v2h-1.5zM573.3 278.9h1.7v2h-1.7zM574.5 276.9h1.7v2h-1.7zM577.8 278.9h1.7v2h-1.7zM579 276.9h1.7v2h-1.7zM581.9 278.7h1.6v2h-1.6zM582.9 276.8h1.8v2h-1.8zM585.8 276.6h1.8v2h-1.8zM587.5 277.9h1.6v2h-1.6zM589.5 279.5h1.5v2h-1.5zM834.1 273.2h1.7v2h-1.7zM835.3 271.2h1.7v2h-1.7zM838.6 273.2h1.7v2h-1.7zM839.8 271.2h1.7v2h-1.7zM842.7 273h1.6v2h-1.6zM843.7 271.1h1.8v2h-1.8zM846.6 270.9h1.8v2h-1.8zM848.3 272.2h1.6v2h-1.6zM850.3 273.8h1.5v2h-1.5zM833.6 278.9h1.7v2h-1.7zM834.8 276.9h1.7v2h-1.7zM838.1 278.9h1.7v2h-1.7zM839.3 276.9h1.7v2h-1.7zM842.2 278.7h1.6v2h-1.6zM843.2 276.8h1.8v2h-1.8zM846.1 276.6h1.8v2h-1.8zM847.8 277.9h1.6v2h-1.6zM849.8 279.5h1.5v2h-1.5zM1093.6 273.2h1.7v2h-1.7zM1094.8 271.2h1.7v2h-1.7zM1098.1 273.2h1.7v2h-1.7zM1099.3 271.2h1.7v2h-1.7zM1102.2 273h1.6v2h-1.6zM1103.2 271.1h1.8v2h-1.8zM1106.1 270.9h1.8v2h-1.8zM1107.8 272.2h1.6v2h-1.6zM1109.8 273.8h1.5v2h-1.5zM1093.1 278.9h1.7v2h-1.7zM1094.3 276.9h1.7v2h-1.7zM1097.6 278.9h1.7v2h-1.7zM1098.8 276.9h1.7v2h-1.7zM1101.7 278.7h1.6v2h-1.6zM1102.7 276.8h1.8v2h-1.8zM1105.6 276.6h1.8v2h-1.8zM1107.3 277.9h1.6v2h-1.6zM1109.3 279.5h1.5v2h-1.5zM313.6 272.1h1.6v2.2h-1.6zM316.2 271.8h1.6v2.2h-1.6zM318.8 272.4h1.6v2.2h-1.6zM684.9 272.4h1.6v2.2h-1.6zM687.5 272.1h1.6v2.2h-1.6zM690.1 271.8h1.6v2.2h-1.6zM942.2 272.1h1.6v2.2h-1.6zM944.8 271.7h1.6v2.2h-1.6zM947.4 271.7h1.6v2.2h-1.6zM67.7 340.7h1.6v2.2h-1.6zM69.7 340.4h1.6v2.2h-1.6zM71.7 340.1h1.6v2.2h-1.6zM73.5 339.2h1.3v1.9h-1.3zM75.1 338.9h1.3v1.9h-1.3zM76.5 340.3h1.6v2.2h-1.6zM78.6 341.7h1.6v2.2h-1.6zM80.7 341.6h1.6v2.2h-1.6zM82.8 343h1.6v2.2h-1.6zM84.9 342.9h1.6v2.2h-1.6zM218.2 344.1h2.7v3h-2.7zM221.5 344.1h2.7v3h-2.7zM224.8 344.1h2.7v3h-2.7zM228.1 344.1h2.7v3h-2.7zM234.5 344.1h3.1v3h-3.1zM238.1 344.1h3.1v3h-3.1zM241.7 344.1h3.1v3h-3.1zM245.3 344.1h3.1v3h-3.1zM252.1 343.9h1.7v3h-1.7zM254.3 347.2h2.6v2.6h-2.6zM257.4 347.2h2.6v2.6h-2.6zM260.5 347.2h2.6v2.6h-2.6zM263.6 347.2h2.6v2.6h-2.6zM266.7 347.2h2.6v2.6h-2.6zM269.8 347.2h2.6v2.6h-2.6zM273.4 344h1.9v2.6h-1.9zM276 344h1.9v2.6h-1.9zM280.2 344h1.7v2.6h-1.7zM282.4 344.2h1.7v2.6h-1.7zM284.6 344.3h1.7v2.6h-1.7zM287 345.1h1.5v2.2h-1.5zM288.8 346.9h1.5v2.2h-1.5zM308.4 345.5h1.5v2.2h-1.5zM310.3 343.3h1.5v2.2h-1.5zM312.4 343.5h1.4v2.2h-1.4zM313.9 345.4h1.4v2.2h-1.4zM315.4 347.3h1.2v2.2h-1.2zM316.6 344.1h1.4v2.2h-1.4zM318.1 347.7h1.3v2.2h-1.3zM319.4 347.5h1.4v2.2h-1.4zM321 345.5h1.4v2.2h-1.4zM588.8 344.1h2.7v3h-2.7zM592.1 344.1h2.7v3h-2.7zM595.4 344.1h2.7v3h-2.7zM598.7 344.1h2.7v3h-2.7zM605.1 344.1h3.1v3h-3.1zM608.7 344.1h3.1v3h-3.1zM612.3 344.1h3.1v3h-3.1zM615.9 344.1h3.1v3h-3.1zM622.7 343.9h1.7v3h-1.7zM624.9 347.2h2.6v2.6h-2.6zM628 347.2h2.6v2.6h-2.6zM631.1 347.2h2.6v2.6h-2.6zM634.2 347.2h2.6v2.6h-2.6zM637.3 347.2h2.6v2.6h-2.6zM640.4 347.2h2.6v2.6h-2.6zM644 344h1.9v2.6h-1.9zM646.6 344h1.9v2.6h-1.9zM650.8 344h1.7v2.6h-1.7zM653 344.2h1.7v2.6h-1.7zM655.2 344.3h1.7v2.6h-1.7zM657.6 345.1h1.5v2.2h-1.5zM659.4 346.9h1.5v2.2h-1.5zM679 345.5h1.5v2.2h-1.5zM680.9 343.3h1.5v2.2h-1.5zM683 343.5h1.4v2.2h-1.4zM684.5 345.4h1.4v2.2h-1.4zM686 347.3h1.2v2.2h-1.2zM687.2 344.1h1.4v2.2h-1.4zM688.7 347.7h1.3v2.2h-1.3zM690 347.5h1.4v2.2h-1.4zM691.6 345.5h1.4v2.2h-1.4zM889.1 347.2h2.6v2.6h-2.6zM892.2 347.2h2.6v2.6h-2.6zM895.3 347.2h2.6v2.6h-2.6zM898.4 347.2h2.6v2.6h-2.6zM901.5 347.2h2.6v2.6h-2.6zM904.6 347.2h2.5v2.6h-2.5zM907.1 344h1.9v2.6h-1.9zM909.7 344h1.9v2.6h-1.9zM913.6 344h1.7v2.6h-1.7zM915.8 344.2h1.7v2.6h-1.7zM918 344.3h1.7v2.6h-1.7zM920 345.1h1.5v2.2h-1.5zM921.8 346.9h1.5v2.2h-1.5zM940.2 345.5h1.5v2.2h-1.5zM942.1 343.3h1.5v2.2h-1.5zM944 343.5h1.4v2.2h-1.4zM945.5 345.4h1.4v2.2h-1.4zM947 347.3h1v2.2h-1zM948 344.1h1.4v2.2h-1.4zM949.5 347.7h1.1v2.2h-1.1zM950.6 347.5h1.4v2.2h-1.4zM952.2 345.5h1.4v2.2h-1.4zM34.5 409.1h1.6v2.8h-1.6zM39.7 409h2.4v2.8h-2.4zM44.9 409.4h2.4v2.8h-2.4zM50.7 409h2.4v2.8h-2.4zM53.3 406.5h1.7v2.8h-1.7zM55.9 406.1h1.7v2.8h-1.7zM58.5 406.7h1.7v2.8h-1.7zM62.3 406.5h1.7v2.8h-1.7zM64.9 406.2h1.7v2.8h-1.7zM68.1 406.3h1.7v2.8h-1.7zM70.7 406.5h1.7v2.8h-1.7zM71.4 409h2.4v2.8h-2.4zM77.2 409.1h2.8v2.8h-2.8zM80 405.4h1.7v2.8h-1.7zM85.5 404.6h1.7v2.8h-1.7zM88 409.2h1.6v2.7h-1.6zM90.1 409.2h3.8v2.7h-3.8zM95.1 409.2h3.4v2.7h-3.4zM99.3 409.2h3.8v2.7h-3.8zM103.6 409.2h3.4v2.7h-3.4zM108 409.1h1.6v2.8h-1.6zM113.8 409.4h2.8v2.8h-2.8zM119 409h2.8v2.8h-2.8zM123.6 409.4h2.8v2.8h-2.8zM128.8 409.1h2.4v2.8h-2.4zM134 409.1h2.8v2.8h-2.8zM139.8 409.1h2.4v2.8h-2.4zM144.4 409.1h1.6v2.8h-1.6zM149 409.3h2.8v2.8h-2.8zM152.5 405.3h1.7v2.8h-1.7zM158.5 406.7h1.7v2.8h-1.7zM161.7 406.5h1.7v2.8h-1.7zM165 409.1h2.4v2.8h-2.4zM170.8 409.2h1.6v2.8h-1.6zM177 405h1.7v2.8h-1.7zM184.5 406h1.7v2.8h-1.7zM188.3 406.1h1.7v2.8h-1.7zM190.5 406.7h1.7v2.8h-1.7zM196 409.1h2.8v2.8h-2.8zM201.8 409.2h2.4v2.8h-2.4zM207.6 409.1h2.4v2.8h-2.4zM212.8 409.1h2.4v2.8h-2.4zM219.2 409.2h2.4v2.8h-2.4zM223.8 409.3h2.4v2.8h-2.4zM229.6 409.3h1.6v2.8h-1.6zM234.2 409.3h2.4v2.8h-2.4zM240 409.2h1.6v2.8h-1.6zM245.2 409.1h2.4v2.8h-2.4zM249.8 409h2.4v2.8h-2.4zM254.4 409.1h1.6v2.8h-1.6zM259.6 409.4h2.4v2.8h-2.4zM263.7 405.1h1.7v2.8h-1.7zM269.7 406.5h1.7v2.8h-1.7zM272.3 406.2h1.7v2.8h-1.7zM276.2 409.3h1.6v2.8h-1.6zM281.4 409h2.8v2.8h-2.8zM286 409.3h1.6v2.8h-1.6zM288.2 404.7h1.7v2.8h-1.7zM295.7 406.1h1.7v2.8h-1.7zM298.9 405.7h1.7v2.8h-1.7zM301.7 407h1.7v2.8h-1.7zM304.3 407.3h1.7v2.8h-1.7zM307.2 409.3h2.4v2.8h-2.4zM311.8 409.4h2.8v2.8h-2.8zM317.6 409.1h2.4v2.8h-2.4zM322.8 409.1h2.8v2.8h-2.8zM328 409.4h2.4v2.8h-2.4zM332 409.6h3.4v2.7h-3.4zM336.2 409.6h3.4v2.7h-3.4zM340.8 409.6h3.4v2.7h-3.4zM344.7 409.6h3.8v2.7h-3.8zM349 406.6h1.7v2.8h-1.7zM352.2 406.5h1.7v2.8h-1.7zM355.4 406.6h1.7v2.8h-1.7zM359.2 406.7h1.7v2.8h-1.7zM363 406.6h1.7v2.8h-1.7zM366.8 406.4h1.7v2.8h-1.7zM368.5 409.6h2.4v2.7h-2.4zM371.4 409.6h1.6v2.7h-1.6zM374.2 409.6h3.4v2.7h-3.4zM378.8 409.6h3.8v2.7h-3.8zM383.1 409.6h1.6v2.7h-1.6zM388 406.2h1.7v2.8h-1.7zM391.8 406.3h1.7v2.8h-1.7zM394.4 405.8h1.7v2.8h-1.7zM397 405.9h1.7v2.8h-1.7zM399.6 406h1.7v2.8h-1.7zM402.2 406.2h1.7v2.8h-1.7zM404.8 409.6h2.4v2.7h-2.4zM407.7 409.6h2.4v2.7h-2.4zM411.3 409.6h2.4v2.7h-2.4zM414.9 409.6h2.4v2.7h-2.4zM417.8 409.6h3.8v2.7h-3.8zM422.1 409.6h1.5v2.7h-1.5zM425 406.7h1.7v2.8h-1.7zM427.6 406.2h1.7v2.8h-1.7zM430.2 406.2h1.7v2.8h-1.7zM432.8 406.7h1.7v2.8h-1.7zM436.6 406.2h1.7v2.8h-1.7zM440.4 406.5h1.7v2.8h-1.7zM441 409.1h2.4v2.8h-2.4zM446.2 409.1h2.8v2.8h-2.8zM449 405.7h1.7v2.8h-1.7zM452.2 405.7h1.7v2.8h-1.7zM455.4 405.5h1.7v2.8h-1.7zM458.6 409.2h3.8v2.7h-3.8zM463.6 409.2h1.6v2.7h-1.6zM466 409.2h2.4v2.7h-2.4zM469.2 409.2h2.4v2.7h-2.4zM472.4 409.2h2.4v2.7h-2.4zM475.6 409.2h1.6v2.7h-1.6zM478.4 409.2h1.6v2.7h-1.6zM478.7 409.3h2.4v2.8h-2.4zM483.3 409.1h2.8v2.8h-2.8zM487.9 409.1h2.4v2.8h-2.4zM492.5 409.1h2.4v2.8h-2.4zM497.1 409.3h1.6v2.8h-1.6zM502.3 409.2h1.6v2.8h-1.6zM508.1 409.1h2.4v2.8h-2.4zM513.3 409.2h2.4v2.8h-2.4zM517.9 409.2h2.4v2.8h-2.4zM523.2 405.5h1.7v2.8h-1.7zM526.4 405.2h1.7v2.8h-1.7zM529.2 406.6h1.7v2.8h-1.7zM533 406.2h1.7v2.8h-1.7zM535.7 409.1h2.4v2.8h-2.4zM541.5 409.2h2.8v2.8h-2.8zM547.7 404.7h1.7v2.8h-1.7zM555.2 405.8h1.7v2.8h-1.7zM558.4 405.8h1.7v2.8h-1.7zM561.2 407.2h1.7v2.8h-1.7zM566.7 409.1h2.4v2.8h-2.4zM572.5 409.3h2.4v2.8h-2.4zM577.7 409.1h2.8v2.8h-2.8zM582.9 409.2h2.8v2.8h-2.8zM588.1 409.2h2.8v2.8h-2.8zM589.9 409.1h2.4v2.8h-2.4zM595.1 409.4h2.4v2.8h-2.4zM600.9 409.1h2.8v2.8h-2.8zM606.7 409.1h2.4v2.8h-2.4zM611.3 409.4h2.4v2.8h-2.4zM615.9 409.2h2.4v2.8h-2.4zM621.1 409.3h2.8v2.8h-2.8zM626.3 409.1h2.8v2.8h-2.8zM630.9 409.1h2.8v2.8h-2.8zM634.4 405.4h1.7v2.8h-1.7zM637 405.3h1.7v2.8h-1.7zM640.4 406.5h1.7v2.8h-1.7zM644.2 406.7h1.7v2.8h-1.7zM646.9 409h1.6v2.8h-1.6zM652.7 409h1.6v2.8h-1.6zM658.9 405h1.7v2.8h-1.7zM666.4 406.1h1.7v2.8h-1.7zM670.2 406.1h1.7v2.8h-1.7zM672.4 407.2h1.7v2.8h-1.7zM677.9 409.3h2.4v2.8h-2.4zM682.5 409.2h1.6v2.8h-1.6zM688.3 409.4h2.4v2.8h-2.4zM693.5 409.3h1.6v2.8h-1.6zM698.7 409.3h2.8v2.8h-2.8zM702.7 409.6h1.6v2.7h-1.6zM704.8 409.6h1.6v2.7h-1.6zM707.6 409.6h3.4v2.7h-3.4zM712.2 409.6h3.8v2.7h-3.8zM716.5 409.6h1.6v2.7h-1.6zM719.7 406.6h1.7v2.8h-1.7zM722.3 406.1h1.7v2.8h-1.7zM726.1 406.2h1.7v2.8h-1.7zM729.9 406.6h1.7v2.8h-1.7zM732.5 406.4h1.7v2.8h-1.7zM735.1 406.6h1.7v2.8h-1.7zM739.2 409.6h3.4v2.7h-3.4zM743.8 409.6h1.6v2.7h-1.6zM746.6 409.6h2.4v2.7h-2.4zM750.2 409.6h3.8v2.7h-3.8zM755.2 409.6h1.5v2.7h-1.5zM758.7 406.2h1.7v2.8h-1.7zM761.9 405.9h1.7v2.8h-1.7zM765.7 405.9h1.7v2.8h-1.7zM769.5 406.3h1.7v2.8h-1.7zM772.1 406.2h1.7v2.8h-1.7zM775.5 409.6h3.8v2.7h-3.8zM780.5 409.6h2.4v2.7h-2.4zM783.7 409.6h3.8v2.7h-3.8zM788.3 409.6h1.6v2.7h-1.6zM790.4 409.6h2.4v2.7h-2.4zM795.7 406.4h1.7v2.8h-1.7zM798.9 406.5h1.7v2.8h-1.7zM802.7 406.3h1.7v2.8h-1.7zM805.9 406.2h1.7v2.8h-1.7zM809.1 406.5h1.7v2.8h-1.7zM811.7 409.4h2.4v2.8h-2.4zM816.9 409.1h1.6v2.8h-1.6zM819.7 406.1h1.7v2.8h-1.7zM822.3 406h1.7v2.8h-1.7zM826.1 405.6h1.7v2.8h-1.7zM829.3 409.2h3.4v2.7h-3.4zM833.2 409.2h3.8v2.7h-3.8zM838.2 409.2h1.6v2.7h-1.6zM840.6 409.2h3.8v2.7h-3.8zM845.6 409.2h3.4v2.7h-3.4zM886.6 409.3h2.8v2.8h-2.8zM891.8 409.3h2.8v2.8h-2.8zM897.6 409.3h1.6v2.8h-1.6zM902.8 409.3h2.4v2.8h-2.4zM908.5 405.3h1.7v2.8h-1.7zM912.3 405.3h1.7v2.8h-1.7zM916 406.4h1.7v2.8h-1.7zM919.8 406.5h1.7v2.8h-1.7zM924 409.1h2.8v2.8h-2.8zM929.8 409h1.6v2.8h-1.6zM935 405.2h1.7v2.8h-1.7zM942 406.4h1.7v2.8h-1.7zM945.2 406.5h1.7v2.8h-1.7zM947.8 406.5h1.7v2.8h-1.7zM950.4 406.7h1.7v2.8h-1.7zM952 409.1h2.8v2.8h-2.8zM956.6 409.3h2.4v2.8h-2.4zM962.6 409.6h1.6v2.7h-1.6zM965 409.6h3.4v2.7h-3.4zM968.9 409.6h1.6v2.7h-1.6zM971.7 409.6h3.4v2.7h-3.4zM976.3 409.6h2.4v2.7h-2.4zM979.6 406.6h1.7v2.8h-1.7zM983.4 406.6h1.7v2.8h-1.7zM986.6 406.2h1.7v2.8h-1.7zM990.4 406.2h1.7v2.8h-1.7zM993 406.5h1.7v2.8h-1.7zM996.2 406.5h1.7v2.8h-1.7zM999.1 409.6h2.4v2.7h-2.4zM1002.3 409.6h1.6v2.7h-1.6zM1004.4 409.6h3.4v2.7h-3.4zM1008.6 409.6h1.6v2.7h-1.6zM1011.4 409.6h2.4v2.7h-2.4zM1014.6 409.6h1.6v2.7h-1.6zM1018.6 406.2h1.7v2.8h-1.7zM1021.2 406.1h1.7v2.8h-1.7zM1025 406.2h1.7v2.8h-1.7zM1028.8 405.8h1.7v2.8h-1.7zM1032 406.1h1.7v2.8h-1.7zM1035.4 409.6h1.6v2.7h-1.6zM1038.2 409.6h3.8v2.7h-3.8zM1042.8 409.6h3.8v2.7h-3.8zM1047.4 409.6h1.6v2.7h-1.6zM1050.2 409.6h2.4v2.7h-2.4zM1053.1 409.6h1.1v2.7h-1.1zM1055.6 406.5h1.7v2.8h-1.7zM1058.2 406.5h1.7v2.8h-1.7zM1062 406.5h1.7v2.8h-1.7zM1065.2 406.6h1.7v2.8h-1.7zM1067.8 406.4h1.7v2.8h-1.7zM1071 406.6h1.7v2.8h-1.7zM1071.6 409.1h2.4v2.8h-2.4zM1076.8 409.1h2.4v2.8h-2.4zM1079.6 405.7h1.7v2.8h-1.7zM1083.4 405.8h1.7v2.8h-1.7zM1086 405.7h1.7v2.8h-1.7zM1089.2 409.2h1.6v2.7h-1.6zM1091.6 409.2h2.4v2.7h-2.4zM1094.8 409.2h3.8v2.7h-3.8zM1099.4 409.2h1.6v2.7h-1.6zM1101.8 409.2h3.8v2.7h-3.8zM1106.8 409.2h3.8v2.7h-3.8zM1119.7 406.3h1.7v2.8h-1.7zM1122.3 406.5h1.7v2.8h-1.7zM1124.9 406.3h1.7v2.8h-1.7zM1127 409.2h3.8v2.7h-3.8zM1131.3 409.2h2.4v2.7h-2.4zM1134.2 409.2h1.6v2.7h-1.6zM1137 409.2h1.6v2.7h-1.6zM1140 406h1.7v2.8h-1.7zM1143.2 405.9h1.7v2.8h-1.7zM1145.8 405.7h1.7v2.8h-1.7zM1149 406.1h1.7v2.8h-1.7zM1152.8 405.7h1.7v2.8h-1.7zM140.1 463.2h3.4v6.2h-3.4zM186.8 464.6h1.2v6.8h-1.2zM188.5 464.5h1.2v6.8h-1.2zM210.7 465.3h3.4v6.2h-3.4zM255.9 462.8h2.8v6.8h-2.8zM270.7 463.7h2.1v6.2h-2.1zM286.8 466h3.2v6.2h-3.2zM298 464.9h2.8v5.6h-2.8zM301.6 463.9h1.6v6.8h-1.6zM322.5 465.2h3.4v6.8h-3.4zM333.1 464.5h1.6v5.6h-1.6zM335.2 464.4h2.2v5.6h-2.2zM337.9 463.6h1.2v6.8h-1.2zM346.8 463.6h2.2v6.2h-2.2zM355.8 463h3.4v6.8h-3.4zM367.4 463.6h1.6v6.2h-1.6zM369.5 464h3.4v6.2h-3.4zM379.1 464.2h1.6v6.2h-1.6zM406.3 463.8h2.2v6.8h-2.2zM412.9 463.7h3.4v5.6h-3.4zM417.1 463.8h1.2v6.8h-1.2zM422.4 464.5h1.2v5.6h-1.2zM454 464h3.4v6.2h-3.4zM457.9 464.4h1.6v5.6h-1.6zM471.7 463.4h3.4v6.8h-3.4zM507 463.2h3.4v6.2h-3.4zM543.9 465.7h2.8v6.8h-2.8zM562 464.6h2.8v6.8h-2.8zM580.2 465.4h2.2v6.2h-2.2zM620.2 463.3h3.4v6.8h-3.4zM631.6 463.1h2.8v6.8h-2.8zM639.4 463.4h3.4v6.8h-3.4zM655.1 466.3h2.2v5.6h-2.2zM658.4 465.8h2.2v6.8h-2.2zM668.7 464.1h3.4v6.8h-3.4zM705.5 464.2h3.4v5.6h-3.4zM709.7 463h1.2v6.8h-1.2zM720.1 463.8h2.8v6.2h-2.8zM726 464.1h2.8v6.2h-2.8zM735 463.9h2.8v6.2h-2.8zM750.9 463.7h1.6v6.2h-1.6zM753 463.8h1.6v6.8h-1.6zM767.8 464.2h1.6v5.6h-1.6zM773.2 464.3h1.6v5.6h-1.6zM785.2 463h2.8v6.8h-2.8zM799.2 463.6h3.4v5.6h-3.4zM805.4 464.3h1.2v5.6h-1.2zM809.7 463h1.6v6.8h-1.6zM822.3 464h3.4v5.6h-3.4zM829.8 463.6h1.6v5.6h-1.6zM836.4 463.2h1.6v6.8h-1.6zM845.4 463.9h1.2v5.6h-1.2zM847.1 463.6h2.2v5.6h-2.2zM953.5 462.3h3.4v6.8h-3.4zM978 463.1h2.8v6.8h-2.8zM1009 463.7h1.6v6.8h-1.6zM1018 463h3.4v6.8h-3.4zM1027.8 463.6h3.4v6.8h-3.4zM1049.2 463.4h2.8v6.8h-2.8zM1060 464h2.8v5.6h-2.8zM1072.6 464h1.2v6.2h-1.2zM1081.2 463.2h1.2v6.8h-1.2zM1099.7 463.3h2.8v6.8h-2.8zM1106.3 464.2h1.6v5.6h-1.6zM1144.9 463.6h1.2v6.2h-1.2zM1151.7 463.4h2.3v6.8h-2.3z"/>
<path fill="#fff" stroke="#000" stroke-opacity=".55" stroke-width=".6" d="M34.1 101.8h17.2v7.1h-17.2zM53.4 98.8h16.4v7.2h-16.4zM71.1 101.4h8.8v6.4h-8.8zM80.5 102.6h8.7v6.3h-8.7zM90.4 99.7h15.2v8.3h-15.2zM331.4 101.8h17.3v7.1h-17.3zM349.7 98.5h16.9v7.5h-16.9zM368.1 100.8h17.9v7.4h-17.9zM386 102.8h6.2v6.1h-6.2zM393 103.6h1.8v5.3h-1.8zM396 102.1h8.2v6.4h-8.2zM405.1 101.8h17.8v7.1h-17.8zM424.4 98.6h16.7v7.3h-16.7zM442.3 100.9h8.6v7.3h-8.6zM451.6 102.9h8v6.3h-8zM460.8 99.8h7.8v7.6h-7.8zM469.4 99.6h8.3v7.6h-8.3zM702.1 101.8h17.3v7.1h-17.3zM720.4 98.5h16.9v7.5h-16.9zM738.8 100.8h17.9v7.4h-17.9zM756.7 102.8h6.2v6.1h-6.2zM763.7 103.6h1.8v5.3h-1.8zM766.7 102.1h8.2v6.4h-8.2zM775.8 101.8h17.8v7.1h-17.8zM795.1 98.6h16.7v7.3h-16.7zM813 100.9h8.6v7.3h-8.6zM822.3 102.9h8v6.3h-8zM831.5 99.8h7.8v7.6h-7.8zM840.1 99.6h8.3v7.6h-8.3zM962 101.8h17.3v7.1h-17.3zM980.3 98.5h16.9v7.5h-16.9zM998.7 100.8h17.9v7.4h-17.9zM1016.6 102.8h6.2v6.1h-6.2zM1023.6 103.6h1.8v5.3h-1.8zM1026.6 102.1h8.2v6.4h-8.2zM1035.7 101.8h17.8v7.1h-17.8zM1055 98.6h16.7v7.3h-16.7zM1072.9 100.9h8.6v7.3h-8.6zM1082.2 102.9h8v6.3h-8zM1091.4 99.8h7.8v7.6h-7.8zM1100 99.6h8.3v7.6h-8.3zM1119.2 101.5h7.8v6.5h-7.8zM1129 99.5h8v7h-8zM1138 99.5h8v7h-8zM1147 100.5h7.5v6.5h-7.5z"/>
<path fill="#fff" d="M105 162.5h2v2.4h-2zM107.5 162.5h2v2.4h-2zM109.9 162.5h2v2.4h-2zM112.4 162.5h2v2.4h-2zM114.8 162.5h2v2.4h-2zM117.3 162.5h2v2.4h-2zM119.7 162.5h.8v2.4h-.8zM120.5 164.6h1.4v2.5h-1.4zM122 165.2h1v2.5h-1zM125.7 162.5h2v2.4h-2zM128.2 162.5h2v2.4h-2zM130.6 162.5h2v2.4h-2zM133 162.5h2v2.4h-2zM135.5 162.5h2v2.4h-2zM138.2 164.8h1.4v2.5h-1.4zM139.7 165.3h.9v2.5h-.9zM143.4 165h1.9v2.7h-1.9zM145.6 166h1.9v2.7h-1.9zM147.8 164.3h1.9v2.7h-1.9zM150 165.3h1.9v2.7h-1.9zM152.2 163.6h1.9v2.7h-1.9zM154.4 164.7h1.9v2.7h-1.9zM156.6 163h1.9v2.7h-1.9zM158.8 164h1.9v2.7h-1.9zM161 162.3h1.9v2.7h-1.9zM163.2 163.3h1.4v2.7h-1.4zM164.6 161.8h5v2.7h-5zM178.2 160.8h1.9v2.7h-1.9zM180.4 161.8h1.9v2.7h-1.9zM182.6 161.1h1.4v2.7h-1.4zM184 161.8h1.9v2.7h-1.9zM186.2 163.4h1.9v2.7h-1.9zM188.4 162.5h1.9v2.7h-1.9zM190.6 164.1h1.9v2.7h-1.9zM192.8 163.1h1.9v2.7h-1.9zM195 164.8h1.9v2.7h-1.9zM197.2 163.8h1.8v2.7h-1.8zM199.4 164.9h10.2v3.1h-10.2zM215.5 162.5h2v2.4h-2zM217.9 162.5h2v2.4h-2zM220.4 162.5h2v2.4h-2zM222.8 162.5h2v2.4h-2zM225.3 162.5h2v2.4h-2zM227.7 162.5h2v2.4h-2zM230.2 162.5h.8v2.4h-.8zM231 164.6h1.4v2.5h-1.4zM232.5 165.2h1v2.5h-1zM236.2 162.5h2v2.4h-2zM238.6 162.5h2v2.4h-2zM241.1 162.5h2v2.4h-2zM243.5 162.5h2v2.4h-2zM246 162.5h2v2.4h-2zM248.7 164.8h1.4v2.5h-1.4zM250.2 165.3h.9v2.5h-.9zM253.9 165h1.9v2.7h-1.9zM256.1 166h1.9v2.7h-1.9zM258.3 164.3h1.9v2.7h-1.9zM260.5 165.3h1.9v2.7h-1.9zM262.7 163.6h1.9v2.7h-1.9zM264.9 164.7h1.9v2.7h-1.9zM267.1 163h1.9v2.7h-1.9zM269.3 164h1.9v2.7h-1.9zM271.5 162.3h1.9v2.7h-1.9zM273.7 163.3h1.4v2.7h-1.4zM275.1 161.8h5v2.7h-5zM288.7 160.8h1.9v2.7h-1.9zM290.9 161.8h1.9v2.7h-1.9zM293.1 161.1h1.4v2.7h-1.4zM294.5 161.8h1.9v2.7h-1.9zM296.7 163.4h1.9v2.7h-1.9zM298.9 162.5h1.9v2.7h-1.9zM301.1 164.1h1.9v2.7h-1.9zM303.3 163.1h1.9v2.7h-1.9zM305.5 164.8h1.9v2.7h-1.9zM307.7 163.8h1.8v2.7h-1.8zM309.9 164.9h10.2v3.1h-10.2zM476 162.5h2v2.4h-2zM478.4 162.5h2v2.4h-2zM480.9 162.5h2v2.4h-2zM483.3 162.5h2v2.4h-2zM485.8 162.5h2v2.4h-2zM488.2 162.5h2v2.4h-2zM490.7 162.5h.8v2.4h-.8zM491.5 164.6h1.4v2.5h-1.4zM493 165.2h1v2.5h-1zM496.7 162.5h2v2.4h-2zM499.1 162.5h2v2.4h-2zM501.6 162.5h2v2.4h-2zM504 162.5h2v2.4h-2zM506.5 162.5h2v2.4h-2zM509.2 164.8h1.4v2.5h-1.4zM510.7 165.3h.9v2.5h-.9zM514.4 165h1.9v2.7h-1.9zM516.6 166h1.9v2.7h-1.9zM518.8 164.3h1.9v2.7h-1.9zM521 165.3h1.9v2.7h-1.9zM523.2 163.6h1.9v2.7h-1.9zM525.4 164.7h1.9v2.7h-1.9zM527.6 163h1.9v2.7h-1.9zM529.8 164h1.9v2.7h-1.9zM532 162.3h1.9v2.7h-1.9zM534.2 163.3h1.4v2.7h-1.4zM535.6 161.8h5v2.7h-5zM549.2 160.8h1.9v2.7h-1.9zM551.4 161.8h1.9v2.7h-1.9zM553.6 161.1h1.4v2.7h-1.4zM555 161.8h1.9v2.7h-1.9zM557.2 163.4h1.9v2.7h-1.9zM559.4 162.5h1.9v2.7h-1.9zM561.6 164.1h1.9v2.7h-1.9zM563.8 163.1h1.9v2.7h-1.9zM566 164.8h1.9v2.7h-1.9zM568.2 163.8h1.8v2.7h-1.8zM570.4 164.9h10.2v3.1h-10.2zM586.5 162.5h2v2.4h-2zM589 162.5h2v2.4h-2zM591.4 162.5h2v2.4h-2zM593.9 162.5h2v2.4h-2zM596.3 162.5h2v2.4h-2zM598.8 162.5h2v2.4h-2zM601.2 162.5h.8v2.4h-.8zM602 164.6h1.4v2.5h-1.4zM603.5 165.2h1v2.5h-1zM607.2 162.5h2v2.4h-2zM609.7 162.5h2v2.4h-2zM612.1 162.5h2v2.4h-2zM614.6 162.5h2v2.4h-2zM617 162.5h2v2.4h-2zM619.7 164.8h1.4v2.5h-1.4zM621.2 165.3h.9v2.5h-.9zM624.9 165h1.9v2.7h-1.9zM627.1 166h1.9v2.7h-1.9zM629.3 164.3h1.9v2.7h-1.9zM631.5 165.3h1.9v2.7h-1.9zM633.7 163.6h1.9v2.7h-1.9zM635.9 164.7h1.9v2.7h-1.9zM638.1 163h1.9v2.7h-1.9zM640.3 164h1.9v2.7h-1.9zM642.5 162.3h1.9v2.7h-1.9zM644.7 163.3h1.4v2.7h-1.4zM646.1 161.8h5v2.7h-5zM659.7 160.8h1.9v2.7h-1.9zM661.9 161.8h1.9v2.7h-1.9zM664.1 161.1h1.4v2.7h-1.4zM665.5 161.8h1.9v2.7h-1.9zM667.7 163.4h1.9v2.7h-1.9zM669.9 162.5h1.9v2.7h-1.9zM672.1 164.1h1.9v2.7h-1.9zM674.3 163.1h1.9v2.7h-1.9zM676.5 164.8h1.9v2.7h-1.9zM678.7 163.8h1.8v2.7h-1.8zM680.9 164.9h10.2v3.1h-10.2zM847.5 162.5h2v2.4h-2zM850 162.5h2v2.4h-2zM852.4 162.5h2v2.4h-2zM854.9 162.5h2v2.4h-2zM857.3 162.5h2v2.4h-2zM859.8 162.5h2v2.4h-2zM862.2 162.5h.8v2.4h-.8zM863 164.6h1.4v2.5h-1.4zM864.5 165.2h1v2.5h-1zM868.2 162.5h2v2.4h-2zM870.7 162.5h2v2.4h-2zM873.1 162.5h2v2.4h-2zM875.6 162.5h2v2.4h-2zM878 162.5h2v2.4h-2zM880.7 164.8h1.4v2.5h-1.4zM882.2 165.3h.9v2.5h-.9zM885.9 165h1.9v2.7h-1.9zM888.1 166h1.9v2.7h-1.9zM890.3 164.3h1.9v2.7h-1.9zM892.5 165.3h1.9v2.7h-1.9zM894.7 163.6h1.9v2.7h-1.9zM896.9 164.7h1.9v2.7h-1.9zM899.1 163h1.9v2.7h-1.9zM901.3 164h1.9v2.7h-1.9zM903.5 162.3h1.9v2.7h-1.9zM905.7 163.3h1.4v2.7h-1.4zM907.1 161.8h5v2.7h-5zM920.7 160.8h1.9v2.7h-1.9zM922.9 161.8h1.9v2.7h-1.9zM925.1 161.1h1.4v2.7h-1.4zM926.5 161.8h1.9v2.7h-1.9zM928.7 163.4h1.9v2.7h-1.9zM930.9 162.5h1.9v2.7h-1.9zM933.1 164.1h1.9v2.7h-1.9zM935.3 163.1h1.9v2.7h-1.9zM937.5 164.8h1.9v2.7h-1.9zM939.7 163.8h1.8v2.7h-1.8zM941.9 164.9h10.2v3.1h-10.2zM327.4 162.1h1.5v2.5h-1.5zM329.8 162.1h1.5v2.5h-1.5zM334.8 162.4h1.4v2.3h-1.4zM336.7 164.2h1.4v2.3h-1.4zM338.8 165.2h6.1v2.5h-6.1zM346.2 159.9h1.5v2.5h-1.5zM348.6 159.9h1.5v2.5h-1.5zM352.3 161.4h1.4v2.3h-1.4zM354.2 163.2h1.4v2.3h-1.4zM356.3 163.7h6.5v2.5h-6.5zM364.4 161.2h1.5v2.4h-1.5zM366.4 162.3h1.5v2.4h-1.5zM368.4 161.8h1.5v2.4h-1.5zM373 165h1.4v2.3h-1.4zM374.9 163.9h1.4v2.3h-1.4zM376.8 162.8h1.4v2.3h-1.4zM378.7 161.7h1.4v2.3h-1.4zM382.6 162.4h3.2v2.5h-3.2zM386.6 162.4h3.2v2.5h-3.2zM390.6 162.4h3.2v2.5h-3.2zM394.6 162.4h3.2v2.5h-3.2zM398.6 162.4h3.2v2.5h-3.2zM402.6 162.4h3.2v2.5h-3.2zM406.6 162.4h3.2v2.5h-3.2zM411.5 163.4h1.3v2.3h-1.3zM413.1 164.4h1.3v2.3h-1.3zM414.5 165.2h5.9v2.5h-5.9zM421.3 159.9h1.5v2.5h-1.5zM423.7 159.9h1.5v2.5h-1.5zM427 161.4h1.4v2.3h-1.4zM428.9 163.2h1.4v2.3h-1.4zM431 163.8h6v2.5h-6zM439 161.2h1.5v2.4h-1.5zM441 162.3h1.5v2.4h-1.5zM443 161.8h1.5v2.4h-1.5zM445.8 162h1.6v2.4h-1.6zM448.1 162.4h1.6v2.4h-1.6zM455 162.7h1.4v2.3h-1.4zM456.9 164.2h1.4v2.3h-1.4zM458.6 165.1h10.1v2.6h-10.1zM698.2 162.1h1.5v2.5h-1.5zM700.6 162.1h1.5v2.5h-1.5zM705.6 162.4h1.4v2.3h-1.4zM707.5 164.2h1.4v2.3h-1.4zM709.6 165.2h6.1v2.5h-6.1zM717 159.9h1.5v2.5h-1.5zM719.4 159.9h1.5v2.5h-1.5zM723.1 161.4h1.4v2.3h-1.4zM725 163.2h1.4v2.3h-1.4zM727.1 163.7h6.5v2.5h-6.5zM735.2 161.2h1.5v2.4h-1.5zM737.2 162.3h1.5v2.4h-1.5zM739.2 161.8h1.5v2.4h-1.5zM743.8 165h1.4v2.3h-1.4zM745.7 163.9h1.4v2.3h-1.4zM747.6 162.8h1.4v2.3h-1.4zM749.5 161.7h1.4v2.3h-1.4zM753.4 162.4h3.2v2.5h-3.2zM757.4 162.4h3.2v2.5h-3.2zM761.4 162.4h3.2v2.5h-3.2zM765.4 162.4h3.2v2.5h-3.2zM769.4 162.4h3.2v2.5h-3.2zM773.4 162.4h3.2v2.5h-3.2zM777.4 162.4h3.2v2.5h-3.2zM782.3 163.4h1.3v2.3h-1.3zM783.9 164.4h1.3v2.3h-1.3zM785.3 165.2h5.9v2.5h-5.9zM792.1 159.9h1.5v2.5h-1.5zM794.5 159.9h1.5v2.5h-1.5zM797.8 161.4h1.4v2.3h-1.4zM799.7 163.2h1.4v2.3h-1.4zM801.8 163.8h6v2.5h-6zM809.8 161.2h1.5v2.4h-1.5zM811.8 162.3h1.5v2.4h-1.5zM813.8 161.8h1.5v2.4h-1.5zM816.6 162h1.6v2.4h-1.6zM818.9 162.4h1.6v2.4h-1.6zM825.8 162.7h1.4v2.3h-1.4zM827.7 164.2h1.4v2.3h-1.4zM829.4 165.1h10.1v2.6h-10.1zM958.3 162.1h1.5v2.5h-1.5zM960.7 162.1h1.5v2.5h-1.5zM965.7 162.4h1.4v2.3h-1.4zM967.6 164.2h1.4v2.3h-1.4zM969.7 165.2h6.1v2.5h-6.1zM977.1 159.9h1.5v2.5h-1.5zM979.5 159.9h1.5v2.5h-1.5zM983.2 161.4h1.4v2.3h-1.4zM985.1 163.2h1.4v2.3h-1.4zM987.2 163.7h6.5v2.5h-6.5zM995.3 161.2h1.5v2.4h-1.5zM997.3 162.3h1.5v2.4h-1.5zM999.3 161.8h1.5v2.4h-1.5zM1003.9 165h1.4v2.3h-1.4zM1005.8 163.9h1.4v2.3h-1.4zM1007.7 162.8h1.4v2.3h-1.4zM1009.6 161.7h1.4v2.3h-1.4zM1013.5 162.4h3.2v2.5h-3.2zM1017.5 162.4h3.2v2.5h-3.2zM1021.5 162.4h3.2v2.5h-3.2zM1025.5 162.4h3.2v2.5h-3.2zM1029.5 162.4h3.2v2.5h-3.2zM1033.5 162.4h3.2v2.5h-3.2zM1037.5 162.4h3.2v2.5h-3.2zM1042.4 163.4h1.3v2.3h-1.3zM1044 164.4h1.3v2.3h-1.3zM1045.4 165.2h5.9v2.5h-5.9zM1052.2 159.9h1.5v2.5h-1.5zM1054.6 159.9h1.5v2.5h-1.5zM1057.9 161.4h1.4v2.3h-1.4zM1059.8 163.2h1.4v2.3h-1.4zM1061.9 163.8h6v2.5h-6zM1069.9 161.2h1.5v2.4h-1.5zM1071.9 162.3h1.5v2.4h-1.5zM1073.9 161.8h1.5v2.4h-1.5zM1076.7 162h1.6v2.4h-1.6zM1079 162.4h1.6v2.4h-1.6zM1085.9 162.7h1.4v2.3h-1.4zM1087.8 164.2h1.4v2.3h-1.4zM1089.5 165.1h10.1v2.6h-10.1zM1105.9 161.2h1.5v2.4h-1.5zM1107.9 162.3h1.5v2.4h-1.5zM1109.9 161.8h1.5v2.4h-1.5zM1112.7 162h1.6v2.4h-1.6zM1115 162.4h1.6v2.4h-1.6zM1121.9 162.7h1.4v2.3h-1.4zM1123.8 164.2h1.4v2.3h-1.4zM1125.5 165.1h9.9v2.6h-9.9zM1145 162.8h1.5v2.3h-1.5zM1147 162.2h1.5v2.3h-1.5zM1149 161.5h1.5v2.3h-1.5zM1151 160.8h1v2.3h-1zM1152 158.8h8.5v2.7h-8.5zM327.4 221.8h1.5v2.5h-1.5zM329.8 221.8h1.5v2.5h-1.5zM334.8 222.2h1.4v2.3h-1.4zM336.7 224h1.4v2.3h-1.4zM338.8 224.9h6.1v2.5h-6.1zM346.2 219.7h1.5v2.5h-1.5zM348.6 219.7h1.5v2.5h-1.5zM352.3 221.2h1.4v2.3h-1.4zM354.2 223h1.4v2.3h-1.4zM356.3 223.4h6.5v2.5h-6.5zM364.4 221h1.5v2.4h-1.5zM366.4 222.1h1.5v2.4h-1.5zM368.4 221.6h1.5v2.4h-1.5zM373 224.8h1.4v2.3h-1.4zM374.9 223.7h1.4v2.3h-1.4zM376.8 222.5h1.4v2.3h-1.4zM378.7 221.4h1.4v2.3h-1.4zM382.6 222.2h3.2v2.5h-3.2zM386.6 222.2h3.2v2.5h-3.2zM390.6 222.2h3.2v2.5h-3.2zM394.6 222.2h3.2v2.5h-3.2zM398.6 222.2h3.2v2.5h-3.2zM402.6 222.2h3.2v2.5h-3.2zM406.6 222.2h3.2v2.5h-3.2zM411.5 223.2h1.3v2.3h-1.3zM413.1 224.2h1.3v2.3h-1.3zM414.5 225h5.9v2.5h-5.9zM421.3 219.7h1.5v2.5h-1.5zM423.7 219.7h1.5v2.5h-1.5zM427 221.2h1.4v2.3h-1.4zM428.9 223h1.4v2.3h-1.4zM431 223.5h6v2.5h-6zM439 221h1.5v2.4h-1.5zM441 222.1h1.5v2.4h-1.5zM443 221.6h1.5v2.4h-1.5zM445.8 221.8h1.6v2.4h-1.6zM448.1 222.2h1.6v2.4h-1.6zM455 222.4h1.4v2.3h-1.4zM456.9 224h1.4v2.3h-1.4zM458.6 224.8h10.1v2.6h-10.1zM698.2 221.8h1.5v2.5h-1.5zM700.6 221.8h1.5v2.5h-1.5zM705.6 222.2h1.4v2.3h-1.4zM707.5 224h1.4v2.3h-1.4zM709.6 224.9h6.1v2.5h-6.1zM717 219.7h1.5v2.5h-1.5zM719.4 219.7h1.5v2.5h-1.5zM723.1 221.2h1.4v2.3h-1.4zM725 223h1.4v2.3h-1.4zM727.1 223.4h6.5v2.5h-6.5zM735.2 221h1.5v2.4h-1.5zM737.2 222.1h1.5v2.4h-1.5zM739.2 221.6h1.5v2.4h-1.5zM743.8 224.8h1.4v2.3h-1.4zM745.7 223.7h1.4v2.3h-1.4zM747.6 222.5h1.4v2.3h-1.4zM749.5 221.4h1.4v2.3h-1.4zM753.4 222.2h3.2v2.5h-3.2zM757.4 222.2h3.2v2.5h-3.2zM761.4 222.2h3.2v2.5h-3.2zM765.4 222.2h3.2v2.5h-3.2zM769.4 222.2h3.2v2.5h-3.2zM773.4 222.2h3.2v2.5h-3.2zM777.4 222.2h3.2v2.5h-3.2zM782.3 223.2h1.3v2.3h-1.3zM783.9 224.2h1.3v2.3h-1.3zM785.3 225h5.9v2.5h-5.9zM792.1 219.7h1.5v2.5h-1.5zM794.5 219.7h1.5v2.5h-1.5zM797.8 221.2h1.4v2.3h-1.4zM799.7 223h1.4v2.3h-1.4zM801.8 223.5h6v2.5h-6zM809.8 221h1.5v2.4h-1.5zM811.8 222.1h1.5v2.4h-1.5zM813.8 221.6h1.5v2.4h-1.5zM816.6 221.8h1.6v2.4h-1.6zM818.9 222.2h1.6v2.4h-1.6zM825.8 222.4h1.4v2.3h-1.4zM827.7 224h1.4v2.3h-1.4zM829.4 224.8h10.1v2.6h-10.1zM958.3 221.8h1.5v2.5h-1.5zM960.7 221.8h1.5v2.5h-1.5zM965.7 222.2h1.4v2.3h-1.4zM967.6 224h1.4v2.3h-1.4zM969.7 224.9h6.1v2.5h-6.1zM977.1 219.7h1.5v2.5h-1.5zM979.5 219.7h1.5v2.5h-1.5zM983.2 221.2h1.4v2.3h-1.4zM985.1 223h1.4v2.3h-1.4zM987.2 223.4h6.5v2.5h-6.5zM995.3 221h1.5v2.4h-1.5zM997.3 222.1h1.5v2.4h-1.5zM999.3 221.6h1.5v2.4h-1.5zM1003.9 224.8h1.4v2.3h-1.4zM1005.8 223.7h1.4v2.3h-1.4zM1007.7 222.5h1.4v2.3h-1.4zM1009.6 221.4h1.4v2.3h-1.4zM1013.5 222.2h3.2v2.5h-3.2zM1017.5 222.2h3.2v2.5h-3.2zM1021.5 222.2h3.2v2.5h-3.2zM1025.5 222.2h3.2v2.5h-3.2zM1029.5 222.2h3.2v2.5h-3.2zM1033.5 222.2h3.2v2.5h-3.2zM1037.5 222.2h3.2v2.5h-3.2zM1042.4 223.2h1.3v2.3h-1.3zM1044 224.2h1.3v2.3h-1.3zM1045.4 225h5.9v2.5h-5.9zM1052.2 219.7h1.5v2.5h-1.5zM1054.6 219.7h1.5v2.5h-1.5zM1057.9 221.2h1.4v2.3h-1.4zM1059.8 223h1.4v2.3h-1.4zM1061.9 223.5h6v2.5h-6zM1069.9 221h1.5v2.4h-1.5zM1071.9 222.1h1.5v2.4h-1.5zM1073.9 221.6h1.5v2.4h-1.5zM1076.7 221.8h1.6v2.4h-1.6zM1079 222.2h1.6v2.4h-1.6zM1085.9 222.4h1.4v2.3h-1.4zM1087.8 224h1.4v2.3h-1.4zM1089.5 224.8h10.1v2.6h-10.1zM1105.9 221h1.5v2.4h-1.5zM1107.9 222.1h1.5v2.4h-1.5zM1109.9 221.6h1.5v2.4h-1.5zM1112.7 221.8h1.6v2.4h-1.6zM1115 222.2h1.6v2.4h-1.6zM1121.9 222.4h1.4v2.3h-1.4zM1123.8 224h1.4v2.3h-1.4zM1125.5 224.8h9.9v2.6h-9.9zM33.2 290.1h17.7v3h-17.7zM51.3 287.4h18.8v3h-18.8zM70.5 290.1h8.7v3h-8.7zM79.6 286.6h9.1v3h-9.1zM89.1 290.1h18.4v3h-18.4zM107.9 290.1h17.1v3h-17.1zM126 290.1h17.8v3h-17.8zM144.2 287.4h18.8v3h-18.8zM163.4 290.1h17.7v3h-17.7zM181.5 287.4h18.5v3h-18.5zM200.4 290.1h17.8v3h-17.8zM218.6 290.1h18.4v3h-18.4zM237.4 290.1h17.8v3h-17.8zM255.6 288.1h17.8v3h-17.8zM273.8 290.1h19.2v3h-19.2zM294 287.4h17v3h-17zM312 290.1h8v3h-8zM321 287.4h8.9v3h-8.9zM330.3 290.1h17.8v3h-17.8zM348.5 288.1h18.7v3h-18.7zM367.6 290.1h17.8v3h-17.8zM385.8 287.4h17.8v3h-17.8zM404 290.1h17.6v3h-17.6zM422 288.1h18.8v3h-18.8zM441.2 290.1h8.7v3h-8.7zM450.3 287.4h9.7v3h-9.7zM460.4 290.1h8.7v3h-8.7zM469.5 289.1h26.8v3h-26.8zM496.7 289.1h17.8v3h-17.8zM514.9 286.6h18.7v3h-18.7zM534 289.3h17.8v3h-17.8zM552.2 285.9h18.8v3h-18.8zM571.4 289h17.8v3h-17.8zM589.6 289h18.7v3h-18.7zM608.7 289h17.8v3h-17.8zM626.9 286.4h17.7v3h-17.7zM645 289h19v3h-19zM665 286.4h16.9v3h-16.9zM682.3 289h8.7v3h-8.7zM691.4 285.9h9.7v3h-9.7zM701.5 289h17.7v3h-17.7zM719.6 286.8h17.8v3h-17.8zM737.8 289h18.8v3h-18.8zM757 285.9h5.6v3h-5.6zM763 286.9h3.6v3h-3.6zM767 285.9h7.6v3h-7.6zM775 289h18.9v3h-18.9zM794.3 286.8h17.8v3h-17.8zM812.5 289h8.7v3h-8.7zM821.6 285.9h9.7v3h-9.7zM831.7 289h17.7v3h-17.7zM886.3 286.6h18.5v3h-18.5zM905.2 288.9h17.3v3h-17.3zM924.2 285.9h17.2v3h-17.2zM941.8 288.9h9.7v3h-9.7zM951.9 285.9h8.4v3h-8.4zM960.7 288.9h18.6v3h-18.6zM979.7 286.6h17.5v3h-17.5zM998.6 288.9h17.3v3h-17.3zM1016.3 285.9h18.5v3h-18.5zM1035.2 288.9h18.5v3h-18.5zM1054.1 286.6h18.5v3h-18.5zM1073 288.9h8.5v3h-8.5zM1081.9 285.9h8.4v3h-8.4zM1090.7 288.9h18.5v3h-18.5zM1118.5 285.9h9.6v3h-9.6zM1128.5 288.9h17.3v3h-17.3zM220.3 279h14.9v3h-14.9zM236.4 279h16.8v3h-16.8zM253.6 277h18v3h-18zM272.8 279.1h16.7v3h-16.7zM289.9 281h9.9v3h-9.9zM591.6 279.1h13.9v3h-13.9zM606.7 278.7h16.8v3h-16.8zM623.9 275.7h18.9v3h-18.9zM644 279.1h16v3h-16zM661 280.7h10.8v3h-10.8zM901.4 277.4h18.8v3h-18.8zM921.6 279.4h9.9v3h-9.9zM87.5 344h19.8v3h-19.8zM126.2 464.3h1.2v5.6h-1.2zM136.3 462.9h1.6v6.8h-1.6zM138.4 463.9h1.2v6.2h-1.2zM147.3 464.1h3.4v5.6h-3.4zM173.2 466.4h1.2v5.6h-1.2zM190.5 463.9h2.2v6.8h-2.2zM193.2 464.5h3.4v6.2h-3.4zM232.9 464.9h3.4v5.6h-3.4zM284.4 466.3h1.6v5.6h-1.6zM304 464.7h1.2v5.6h-1.2zM326.4 465.7h2.4v6.8h-2.4zM331 463.4h1.6v6.8h-1.6zM340.2 463.6h2.8v5.6h-2.8zM360 463h2.8v6.8h-2.8zM428.5 464.4h1.2v5.6h-1.2zM433.1 464.1h2.8v6.2h-2.8zM437 463.7h2.2v6.2h-2.2zM440.3 463.9h1.2v5.6h-1.2zM444.4 463.3h1.6v6.8h-1.6zM460.6 463.1h2.2v6.8h-2.2zM463.6 463.6h3.4v5.6h-3.4zM467.8 463.5h2.8v5.6h-2.8zM475.6 462.9h2.2v6.8h-2.2zM478.3 463.5h1.7v6.2h-1.7zM565.9 465h1.2v6.2h-1.2zM575.7 465.9h3.4v6.2h-3.4zM583.5 465.5h2.2v6.8h-2.2zM618.2 463.6h1.2v5.6h-1.2zM678.9 464.9h1.2v6.2h-1.2zM718 464.4h1.6v5.6h-1.6zM729.6 463.7h1.6v5.6h-1.6zM778.9 463.9h1.6v6.2h-1.6zM781.6 463.6h2.8v6.8h-2.8zM815.4 463.6h3.4v6.8h-3.4zM890.7 463.6h2.8v6.8h-2.8zM904.3 465h2.2v6.8h-2.2zM921.6 464.7h1.6v6.8h-1.6zM933.4 465.3h1.2v6.8h-1.2zM971.2 463.7h3.4v5.6h-3.4zM998 463.4h3.4v6.2h-3.4zM1011.7 463.9h2.2v5.6h-2.2zM1034.7 464.2h1.2v6.2h-1.2zM1036.7 463.7h1.2v5.6h-1.2zM1055.5 463h3.4v6.8h-3.4zM1068.1 464.3h3.4v5.6h-3.4zM1074.3 464.2h1.6v6.2h-1.6zM1088.9 463.8h3.4v5.6h-3.4zM1121.1 463.2h1.2v6.8h-1.2zM1132 464.1h2.8v5.6h-2.8z"/>
<path fill="#fff" fill-opacity=".7" d="M300.4 281.2h2.2v2.6h-2.2zM303.8 281.2h2.2v2.6h-2.2zM307.2 281.2h2.2v2.6h-2.2zM672.4 281h2.2v2.4h-2.2zM675.8 281h2.2v2.4h-2.2zM679.2 281h2.2v2.4h-2.2zM103.2 272.4h1.4v2h-1.4zM102.7 278.1h1.4v2h-1.4zM214.1 272.4h1.4v2h-1.4zM213.6 278.1h1.4v2h-1.4zM474.2 272.4h1.4v2h-1.4zM473.7 278.1h1.4v2h-1.4zM585.2 272.4h1.4v2h-1.4zM584.7 278.1h1.4v2h-1.4zM845.5 272.4h1.4v2h-1.4zM845 278.1h1.4v2h-1.4zM1105 272.4h1.4v2h-1.4zM1104.5 278.1h1.4v2h-1.4zM311 280.5h2v1.8h-2zM312.7 279.7h2v1.8h-2zM314.4 278.8h2v1.8h-2zM316 278h2v1.8h-2zM317.7 277.1h2v1.8h-2zM319.4 276.3h2v1.8h-2zM682.3 280.5h2v1.8h-2zM684 279.7h2v1.8h-2zM685.7 278.8h2v1.8h-2zM687.3 278h2v1.8h-2zM689 277.1h2v1.8h-2zM690.7 276.3h2v1.8h-2zM939.6 280.5h2v1.8h-2zM941.3 279.7h2v1.8h-2zM943 278.8h2v1.8h-2zM944.6 278h2v1.8h-2zM946.3 277.1h2v1.8h-2zM948 276.3h2v1.8h-2zM849.8 278.7h1.6v2.6h-1.6zM849.8 284h1.6v2.6h-1.6zM859.2 278.7h1.6v2.6h-1.6zM859.2 284h1.6v2.6h-1.6zM869 278.7h1.6v2.6h-1.6zM869 284h1.6v2.6h-1.6zM1110.9 278.4h1.5v2.4h-1.5zM1110.9 283.4h1.5v2.4h-1.5zM1114.8 278.4h1.5v2.4h-1.5zM1114.8 283.4h1.5v2.4h-1.5zM290.8 346.8h2.2v2.4h-2.2zM294.1 346.8h2.2v2.4h-2.2zM297.4 346.8h2.2v2.4h-2.2zM300.7 346.8h2.2v2.4h-2.2zM304 346.8h2.2v2.4h-2.2zM661.4 346.8h2.2v2.4h-2.2zM664.7 346.8h2.2v2.4h-2.2zM668 346.8h2.2v2.4h-2.2zM671.3 346.8h2.2v2.4h-2.2zM674.6 346.8h2.2v2.4h-2.2zM923.6 346.8h2.2v2.4h-2.2zM926.9 346.8h2.2v2.4h-2.2zM930.2 346.8h2.2v2.4h-2.2zM933.5 346.8h2.2v2.4h-2.2zM936.8 346.8h2.2v2.4h-2.2zM1157 409.3h1.2v4.4h-1.2zM144 463.3h2.8v6.8h-2.8zM174.9 466h2.2v5.6h-2.2zM197.7 464.8h.9v5.6h-.9zM253.2 463.6h1.6v5.6h-1.6zM316.2 465.7h2.8v6.8h-2.8zM343.5 463.3h2.2v6.8h-2.2zM377 464h1.6v6.2h-1.6zM393.7 464.3h1.6v5.6h-1.6zM399.7 463.4h1.6v6.2h-1.6zM424.4 463h1.2v6.8h-1.2zM426.1 463.7h1.6v5.6h-1.6zM430.8 463.5h1.2v6.8h-1.2zM446.8 463.9h3.4v5.6h-3.4zM492.4 464.1h3.4v6.2h-3.4zM513.6 463.1h1.6v6.8h-1.6zM519.9 464h3.4v6.2h-3.4zM530.9 463.6h1.2v6.2h-1.2zM557.5 465h3.4v6.2h-3.4zM568.2 464.9h1.1v5.6h-1.1zM603.6 464.4h2.8v5.6h-2.8zM672.6 464h1.2v6.8h-1.2zM697.4 464.8h1.6v6.8h-1.6zM714.1 463.9h2.8v5.6h-2.8zM738.3 463.9h2.2v5.6h-2.2zM745.5 463.7h1.6v6.2h-1.6zM769.9 463.4h2.2v6.2h-2.2zM795.1 463.8h1.2v6.2h-1.2zM796.8 463.9h1.6v6.2h-1.6zM803.7 463.6h1.2v6.8h-1.2zM812.1 463.6h2.2v6.8h-2.2zM888.3 463.5h1.6v5.6h-1.6zM931 465.6h1.6v6.2h-1.6zM938 465.1h2.2v6.8h-2.2zM947.5 462.5h1.2v6.8h-1.2zM949.5 462.5h1.2v6.8h-1.2zM961.6 463h2.8v6.8h-2.8zM964.9 463.2h2.2v6.8h-2.2zM987.7 463.5h1.2v6.8h-1.2zM993.6 464h1.2v5.6h-1.2zM1006.7 464.1h1.2v5.6h-1.2zM1031.7 463.7h2.2v6.8h-2.2zM1042.6 463.9h3.4v5.6h-3.4zM1047.1 462.9h1.6v6.8h-1.6zM1052.8 463.5h2.2v6.2h-2.2zM1063.6 463.9h3.4v6.8h-3.4zM1093.1 463.8h3.4v6.8h-3.4zM1097.3 464.1h1.6v5.6h-1.6zM1122.8 463.8h2.2v6.8h-2.2zM1139.5 463.9h2.2v6.8h-2.2z"/>
<path fill="#fff" fill-opacity=".6" d="M932 279.7h3v2.4h-3zM935.8 279.7h3v2.4h-3zM121.7 463.8h3.4v6.8h-3.4zM130.4 464.4h1v5.2h-1zM151.5 463.3h2.8v5.6h-2.8zM157.5 463.7h1.6v6.2h-1.6zM182.3 466h1v5.2h-1zM208.3 465.4h1.6v6.2h-1.6zM237.1 464.7h1.5v6.2h-1.5zM241.6 464.4h1v5.2h-1zM247.5 463.7h1.6v6.2h-1.6zM263.1 463.7h1.2v6.2h-1.2zM265.1 463.5h1.2v6.2h-1.2zM293.5 466h1v5.2h-1zM349.8 464.3h1.6v5.6h-1.6zM363.6 464.1h1.6v5.6h-1.6zM373.7 463.3h2.2v6.2h-2.2zM381.2 463.6h1.2v6.2h-1.2zM386.2 464.3h1.6v5.6h-1.6zM388.9 464.4h2.2v5.6h-2.2zM401.8 463.8h3.4v6.8h-3.4zM409.3 464.4h2.8v5.6h-2.8zM450.7 464.3h2.2v5.6h-2.2zM496.9 464.8h1.2v5.6h-1.2zM501.1 464.4h1v5.2h-1zM510.9 463.4h2.2v6.8h-2.2zM516.3 463h2.8v6.2h-2.8zM547.8 465.9h1.6v6.2h-1.6zM553 466h1v5.2h-1zM612.3 464.4h1v5.2h-1zM624.4 463.5h3.4v6.2h-3.4zM628.3 464h2.2v5.6h-2.2zM664.2 466h1v5.2h-1zM686.9 465.9h2.2v5.6h-2.2zM690.2 465.3h1.6v6.8h-1.6zM701.6 463.8h3.4v6.2h-3.4zM712 463.3h1.6v6.8h-1.6zM732 463.3h2.2v6.8h-2.2zM741.3 463.8h1.6v5.6h-1.6zM762.8 464.2h2.2v5.6h-2.2zM766.1 463h1.2v6.8h-1.2zM775.6 463.8h2.8v6.8h-2.8zM793 464.3h1.6v5.6h-1.6zM807.4 463.6h1.2v6.8h-1.2zM819.6 463.5h1.6v5.6h-1.6zM858.4 464.2h1.1v5.6h-1.1zM868 464.2h1.1v5.6h-1.1zM902 465.5h1.2v6.2h-1.2zM911 465.7h1v5.4h-1zM943.1 465h1.2v6.2h-1.2zM957.4 463.4h2.6v6.2h-2.6zM968.2 463.5h2.2v6.8h-2.2zM985 464.1h2.2v5.6h-2.2zM1015 464.3h2.2v5.6h-2.2zM1025.8 463.6h1.2v5.6h-1.2zM1039 464.2h2.8v5.6h-2.8zM1085.3 463.6h2.8v6.2h-2.8zM1128.4 463.6h2.8v6.8h-2.8zM1135.6 464.1h3.4v6.2h-3.4zM1156.8 465.5h1v7h-1z"/>
<path fill="#fff" fill-opacity=".5" d="M108.2 464.2h1v5.6h-1zM115.2 464.2h1v5.6h-1zM167.2 466.2h1v5.6h-1zM202.4 465.7h1v5.4h-1zM219.4 464.2h1v5.6h-1zM226.4 464.2h1v5.6h-1zM278.4 466.2h1v5.6h-1zM313.6 465.7h1v5.4h-1zM478.9 464.2h1v5.6h-1zM485.9 464.2h1v5.6h-1zM537.9 466.2h1v5.6h-1zM573.1 465.7h1v5.4h-1zM590.1 464.2h1v5.6h-1zM597.1 464.2h1v5.6h-1zM649.1 466.2h1v5.6h-1zM684.3 465.7h1v5.4h-1zM897 465.7h1v5.4h-1z"/>
<path fill="#d2ecff" fill-opacity=".62" d="M26 531.2h4v2.8h-4zM34.7 517.8h2.2v3.2h-2.2zM42.6 517.8h2.2v3.2h-2.2zM49.8 517.8h2.2v3.2h-2.2zM53.1 517.8h1.6v3.2h-1.6zM57.7 517.8h2.2v3.2h-2.2zM65 517.8h2.2v3.2h-2.2zM72.9 517.8h2.2v3.2h-2.2zM76.2 517.8h1.6v3.2h-1.6zM79.5 517.8h2.2v3.2h-2.2zM82.8 517.8h1.6v3.2h-1.6zM86.8 517.8h2.2v3.2h-2.2zM90.1 517.8h1.6v3.2h-1.6zM94.1 517.8h2.2v3.2h-2.2zM101.3 517.8h2.2v3.2h-2.2zM331.9 517.8h2.2v3.2h-2.2zM338.6 517.8h2.2v3.2h-2.2zM345.8 517.8h2.2v3.2h-2.2zM352.5 517.8h2.2v3.2h-2.2zM359.2 517.8h2.2v3.2h-2.2zM362.5 517.8h1.6v3.2h-1.6zM366.4 517.8h2.2v3.2h-2.2zM369.8 517.8h1.6v3.2h-1.6zM373.7 517.8h2.2v3.2h-2.2zM377 517.8h1.6v3.2h-1.6zM380.4 517.8h2.2v3.2h-2.2zM383.7 517.8h1.6v3.2h-1.6zM387.7 517.8h2.2v3.2h-2.2zM394.3 517.8h2.2v3.2h-2.2zM401.6 517.8h2.2v3.2h-2.2zM408.9 517.8h2.2v3.2h-2.2zM416.7 517.8h2.2v3.2h-2.2zM420 517.8h1.6v3.2h-1.6zM424.6 517.8h2.2v3.2h-2.2zM431.3 517.8h2.2v3.2h-2.2zM438.5 517.8h2.2v3.2h-2.2zM445.8 517.8h2.2v3.2h-2.2zM452.5 517.8h2.2v3.2h-2.2zM459.2 517.8h2.2v3.2h-2.2zM467 517.8h2.2v3.2h-2.2zM473.7 517.8h2.2v3.2h-2.2zM701.9 517.8h2.2v3.2h-2.2zM709.2 517.8h2.2v3.2h-2.2zM716.4 517.8h2.2v3.2h-2.2zM719.7 517.8h1.6v3.2h-1.6zM723.7 517.8h2.2v3.2h-2.2zM727 517.8h1.6v3.2h-1.6zM730.4 517.8h2.2v3.2h-2.2zM738.2 517.8h2.2v3.2h-2.2zM744.9 517.8h2.2v3.2h-2.2zM752.8 517.8h2.2v3.2h-2.2zM760.7 517.8h2.2v3.2h-2.2zM764 517.8h1.6v3.2h-1.6zM768.5 517.8h2.2v3.2h-2.2zM775.2 517.8h2.2v3.2h-2.2zM783.1 517.8h2.2v3.2h-2.2zM790.3 517.8h2.2v3.2h-2.2zM798.2 517.8h2.2v3.2h-2.2zM801.5 517.8h1.6v3.2h-1.6zM804.9 517.8h2.2v3.2h-2.2zM808.2 517.8h1.6v3.2h-1.6zM812.7 517.8h2.2v3.2h-2.2zM820.6 517.8h2.2v3.2h-2.2zM827.9 517.8h2.2v3.2h-2.2zM831.2 517.8h1.6v3.2h-1.6zM835.8 517.8h2.2v3.2h-2.2zM839.1 517.8h1.6v3.2h-1.6zM843.6 517.8h2.2v3.2h-2.2zM959.9 517.8h2.2v3.2h-2.2zM966.6 517.8h2.2v3.2h-2.2zM969.9 517.8h1.6v3.2h-1.6zM973.2 517.8h2.2v3.2h-2.2zM980.5 517.8h2.2v3.2h-2.2zM983.8 517.8h1.6v3.2h-1.6zM988.4 517.8h2.2v3.2h-2.2zM996.2 517.8h2.2v3.2h-2.2zM1003.5 517.8h2.2v3.2h-2.2zM1006.8 517.8h1.6v3.2h-1.6zM1011.4 517.8h2.2v3.2h-2.2zM1014.7 517.8h1.6v3.2h-1.6zM1018.7 517.8h2.2v3.2h-2.2zM1022 517.8h1.6v3.2h-1.6zM1026.5 517.8h2.2v3.2h-2.2zM1033.8 517.8h2.2v3.2h-2.2zM1041.1 517.8h2.2v3.2h-2.2zM1048.3 517.8h2.2v3.2h-2.2zM1055.6 517.8h2.2v3.2h-2.2zM1062.9 517.8h2.2v3.2h-2.2zM1070.7 517.8h2.2v3.2h-2.2zM1078.6 517.8h2.2v3.2h-2.2zM1081.9 517.8h1.6v3.2h-1.6zM1085.3 517.8h2.2v3.2h-2.2zM1088.6 517.8h1.6v3.2h-1.6zM1092.6 517.8h2.2v3.2h-2.2zM1095.9 517.8h1.6v3.2h-1.6zM1099.8 517.8h2.2v3.2h-2.2zM1117.9 517.8h2.2v3.2h-2.2zM1121.2 517.8h1.6v3.2h-1.6zM1125.2 517.8h2.2v3.2h-2.2zM1132.4 517.8h2.2v3.2h-2.2zM1135.7 517.8h1.6v3.2h-1.6zM1140.3 517.8h2.2v3.2h-2.2zM1143.6 517.8h1.6v3.2h-1.6zM1147 517.8h2.2v3.2h-2.2zM1150.3 517.8h1.6v3.2h-1.6z"/>
<path fill="#d2ecff" fill-opacity=".72" d="M34.1 530.2h3.4v2.4h-3.4zM34.9 530.2h1.8v6.8h-1.8zM34.1 522.7h3.4v2.4h-3.4zM34.9 522.7h1.8v5.4h-1.8zM41.7 530.2h3.9v6.8h-3.9zM41.7 522.7h3.9v5.4h-3.9zM49 530.2h3.9v6.8h-3.9zM49 522.7h3.9v5.4h-3.9zM56.9 530.2h3.9v6.8h-3.9zM56.9 522.7h3.9v5.4h-3.9zM64.1 530.2h3.9v6.8h-3.9zM64.1 522.7h3.9v5.4h-3.9zM72.2 530.2h3.4v2.4h-3.4zM73 530.2h1.8v6.8h-1.8zM72.2 522.7h3.4v2.4h-3.4zM73 522.7h1.8v5.4h-1.8zM78.9 530.2h3.4v2.4h-3.4zM79.7 530.2h1.8v6.8h-1.8zM78.9 522.7h3.4v2.4h-3.4zM79.7 522.7h1.8v5.4h-1.8zM85.9 530.2h3.9v6.8h-3.9zM85.9 522.7h3.9v5.4h-3.9zM93.5 530.2h3.4v2.4h-3.4zM94.3 530.2h1.8v6.8h-1.8zM93.5 522.7h3.4v2.4h-3.4zM94.3 522.7h1.8v5.4h-1.8zM100.5 530.2h3.9v6.8h-3.9zM100.5 522.7h3.9v5.4h-3.9zM106.6 530.2h3.9v6.8h-3.9zM107.8 522.7h1.6v3.4h-1.6zM113.9 530.2h3.9v6.8h-3.9zM114 522.7h3.8v3.4h-3.8zM121.8 530.2h3.9v6.8h-3.9zM121.8 522.7h3.8v3.4h-3.8zM128.5 530.2h3.9v6.8h-3.9zM128.5 522.7h3.8v3.4h-3.8zM135.4 530.2h3.4v2.4h-3.4zM136.2 530.2h1.8v6.8h-1.8zM136.3 522.7h1.6v3.4h-1.6zM142.4 530.2h3.9v6.8h-3.9zM142.4 522.7h3.8v3.4h-3.8zM150.5 530.2h3.4v2.4h-3.4zM151.3 530.2h1.8v6.8h-1.8zM150.3 522.7h3.8v3.4h-3.8zM157.5 530.2h3.9v6.8h-3.9zM157.6 522.7h3.8v3.4h-3.8zM165.4 530.2h3.9v6.8h-3.9zM165.5 522.7h3.8v3.4h-3.8zM172.9 530.2h3.4v2.4h-3.4zM173.7 530.2h1.8v6.8h-1.8zM172.7 522.7h3.8v3.4h-3.8zM180.2 530.2h3.4v2.4h-3.4zM181 530.2h1.8v6.8h-1.8zM180 522.7h3.8v3.4h-3.8zM187.2 530.2h3.9v6.8h-3.9zM188.4 522.7h1.6v3.4h-1.6zM194.7 530.2h3.4v2.4h-3.4zM195.5 530.2h1.8v6.8h-1.8zM194.5 522.7h3.8v3.4h-3.8zM201.8 530.2h3.9v6.8h-3.9zM201.8 522.7h3.8v3.4h-3.8zM209.9 530.2h3.4v2.4h-3.4zM210.7 530.2h1.8v6.8h-1.8zM209.7 522.7h3.8v3.4h-3.8zM216.9 530.2h3.9v6.8h-3.9zM217 522.7h3.8v3.4h-3.8zM224.8 530.2h3.9v6.8h-3.9zM224.8 522.7h3.8v3.4h-3.8zM232.3 530.2h3.4v2.4h-3.4zM233.1 530.2h1.8v6.8h-1.8zM232.1 522.7h3.8v3.4h-3.8zM239 530.2h3.4v2.4h-3.4zM239.8 530.2h1.8v6.8h-1.8zM239.9 522.7h1.6v3.4h-1.6zM246 530.2h3.9v6.8h-3.9zM246 522.7h3.8v3.4h-3.8zM253.3 530.2h3.9v6.8h-3.9zM254.4 522.7h1.6v3.4h-1.6zM260.8 530.2h3.4v2.4h-3.4zM261.6 530.2h1.8v6.8h-1.8zM260.6 522.7h3.8v3.4h-3.8zM267.8 530.2h3.9v6.8h-3.9zM267.8 522.7h3.8v3.4h-3.8zM274.7 530.2h3.4v2.4h-3.4zM275.5 530.2h1.8v6.8h-1.8zM274.5 522.7h3.8v3.4h-3.8zM282.3 530.2h3.9v6.8h-3.9zM282.4 522.7h3.8v3.4h-3.8zM290.5 530.2h3.4v2.4h-3.4zM291.3 530.2h1.8v6.8h-1.8zM291.4 522.7h1.6v3.4h-1.6zM296.9 530.2h3.9v6.8h-3.9zM296.9 522.7h3.8v3.4h-3.8zM303.5 530.2h3.9v6.8h-3.9zM303.6 522.7h3.8v3.4h-3.8zM310.8 530.2h3.9v6.8h-3.9zM310.9 522.7h3.8v3.4h-3.8zM317.5 530.2h3.9v6.8h-3.9zM318.6 522.7h1.6v3.4h-1.6zM324.4 530.2h3.4v2.4h-3.4zM325.2 530.2h1.8v6.8h-1.8zM324.2 522.7h3.8v3.4h-3.8zM331.3 530.2h3.4v2.4h-3.4zM332.1 530.2h1.8v6.8h-1.8zM331.3 522.7h3.4v2.4h-3.4zM332.1 522.7h1.8v5.4h-1.8zM337.7 530.2h3.9v6.8h-3.9zM337.7 522.7h3.9v5.4h-3.9zM345.2 530.2h3.4v2.4h-3.4zM346 530.2h1.8v6.8h-1.8zM345.2 522.7h3.4v2.4h-3.4zM346 522.7h1.8v5.4h-1.8zM351.7 530.2h3.9v6.8h-3.9zM351.7 522.7h3.9v5.4h-3.9zM358.3 530.2h3.9v6.8h-3.9zM358.3 522.7h3.9v5.4h-3.9zM365.9 530.2h3.4v2.4h-3.4zM366.7 530.2h1.8v6.8h-1.8zM365.9 522.7h3.4v2.4h-3.4zM366.7 522.7h1.8v5.4h-1.8zM372.9 530.2h3.9v6.8h-3.9zM372.9 522.7h3.9v5.4h-3.9zM379.5 530.2h3.9v6.8h-3.9zM379.5 522.7h3.9v5.4h-3.9zM386.8 530.2h3.9v6.8h-3.9zM386.8 522.7h3.9v5.4h-3.9zM393.7 530.2h3.4v2.4h-3.4zM394.5 530.2h1.8v6.8h-1.8zM393.7 522.7h3.4v2.4h-3.4zM394.5 522.7h1.8v5.4h-1.8zM401 530.2h3.4v2.4h-3.4zM401.8 530.2h1.8v6.8h-1.8zM401 522.7h3.4v2.4h-3.4zM401.8 522.7h1.8v5.4h-1.8zM408 530.2h3.9v6.8h-3.9zM408 522.7h3.9v5.4h-3.9zM415.9 530.2h3.9v6.8h-3.9zM415.9 522.7h3.9v5.4h-3.9zM424 530.2h3.4v2.4h-3.4zM424.8 530.2h1.8v6.8h-1.8zM424 522.7h3.4v2.4h-3.4zM424.8 522.7h1.8v5.4h-1.8zM430.4 530.2h3.9v6.8h-3.9zM430.4 522.7h3.9v5.4h-3.9zM437.9 530.2h3.4v2.4h-3.4zM438.8 530.2h1.8v6.8h-1.8zM437.9 522.7h3.4v2.4h-3.4zM438.8 522.7h1.8v5.4h-1.8zM445.2 530.2h3.4v2.4h-3.4zM446 530.2h1.8v6.8h-1.8zM445.2 522.7h3.4v2.4h-3.4zM446 522.7h1.8v5.4h-1.8zM451.9 530.2h3.4v2.4h-3.4zM452.7 530.2h1.8v6.8h-1.8zM451.9 522.7h3.4v2.4h-3.4zM452.7 522.7h1.8v5.4h-1.8zM458.3 530.2h3.9v6.8h-3.9zM458.3 522.7h3.9v5.4h-3.9zM466.2 530.2h3.9v6.8h-3.9zM466.2 522.7h3.9v5.4h-3.9zM472.9 530.2h3.9v6.8h-3.9zM472.9 522.7h3.9v5.4h-3.9zM478.1 530.2h3.9v6.8h-3.9zM478.1 522.7h3.8v3.4h-3.8zM485.9 530.2h3.9v6.8h-3.9zM486 522.7h3.8v3.4h-3.8zM493.8 530.2h3.9v6.8h-3.9zM493.8 522.7h3.8v3.4h-3.8zM501.1 530.2h3.9v6.8h-3.9zM501.1 522.7h3.8v3.4h-3.8zM508.3 530.2h3.9v6.8h-3.9zM508.4 522.7h3.8v3.4h-3.8zM515.8 530.2h3.4v2.4h-3.4zM516.6 530.2h1.8v6.8h-1.8zM515.6 522.7h3.8v3.4h-3.8zM523.1 530.2h3.4v2.4h-3.4zM523.9 530.2h1.8v6.8h-1.8zM522.9 522.7h3.8v3.4h-3.8zM530.1 530.2h3.9v6.8h-3.9zM530.2 522.7h3.8v3.4h-3.8zM537.7 530.2h3.4v2.4h-3.4zM538.5 530.2h1.8v6.8h-1.8zM537.5 522.7h3.8v3.4h-3.8zM544.7 530.2h3.9v6.8h-3.9zM544.7 522.7h3.8v3.4h-3.8zM551.9 530.2h3.9v6.8h-3.9zM552 522.7h3.8v3.4h-3.8zM559.8 530.2h3.9v6.8h-3.9zM561 522.7h1.6v3.4h-1.6zM566.5 530.2h3.9v6.8h-3.9zM566.5 522.7h3.8v3.4h-3.8zM574.4 530.2h3.9v6.8h-3.9zM574.4 522.7h3.8v3.4h-3.8zM581.6 530.2h3.9v6.8h-3.9zM581.7 522.7h3.8v3.4h-3.8zM588.9 530.2h3.9v6.8h-3.9zM588.9 522.7h3.8v3.4h-3.8zM596.8 530.2h3.9v6.8h-3.9zM596.8 522.7h3.8v3.4h-3.8zM603.4 530.2h3.9v6.8h-3.9zM603.5 522.7h3.8v3.4h-3.8zM611 530.2h3.4v2.4h-3.4zM611.8 530.2h1.8v6.8h-1.8zM610.8 522.7h3.8v3.4h-3.8zM618 530.2h3.9v6.8h-3.9zM618 522.7h3.8v3.4h-3.8zM625.2 530.2h3.9v6.8h-3.9zM625.3 522.7h3.8v3.4h-3.8zM633.1 530.2h3.9v6.8h-3.9zM633.2 522.7h3.8v3.4h-3.8zM639.8 530.2h3.9v6.8h-3.9zM639.8 522.7h3.8v3.4h-3.8zM647.1 530.2h3.9v6.8h-3.9zM647.1 522.7h3.8v3.4h-3.8zM654.3 530.2h3.9v6.8h-3.9zM654.4 522.7h3.8v3.4h-3.8zM662.2 530.2h3.9v6.8h-3.9zM662.2 522.7h3.8v3.4h-3.8zM668.9 530.2h3.9v6.8h-3.9zM668.9 522.7h3.8v3.4h-3.8zM676.1 530.2h3.9v6.8h-3.9zM676.2 522.7h3.8v3.4h-3.8zM682.8 530.2h3.9v6.8h-3.9zM682.9 522.7h3.8v3.4h-3.8zM689.5 530.2h3.9v6.8h-3.9zM689.5 522.7h3.8v3.4h-3.8zM701 530.2h3.9v6.8h-3.9zM701 522.7h3.9v5.4h-3.9zM708.3 530.2h3.9v6.8h-3.9zM708.3 522.7h3.9v5.4h-3.9zM715.8 530.2h3.4v2.4h-3.4zM716.6 530.2h1.8v6.8h-1.8zM715.8 522.7h3.4v2.4h-3.4zM716.6 522.7h1.8v5.4h-1.8zM722.9 530.2h3.9v6.8h-3.9zM722.9 522.7h3.9v5.4h-3.9zM729.5 530.2h3.9v6.8h-3.9zM729.5 522.7h3.9v5.4h-3.9zM737.4 530.2h3.9v6.8h-3.9zM737.4 522.7h3.9v5.4h-3.9zM744.1 530.2h3.9v6.8h-3.9zM744.1 522.7h3.9v5.4h-3.9zM752.2 530.2h3.4v2.4h-3.4zM753 530.2h1.8v6.8h-1.8zM752.2 522.7h3.4v2.4h-3.4zM753 522.7h1.8v5.4h-1.8zM759.8 530.2h3.9v6.8h-3.9zM759.8 522.7h3.9v5.4h-3.9zM767.7 530.2h3.9v6.8h-3.9zM767.7 522.7h3.9v5.4h-3.9zM774.6 530.2h3.4v2.4h-3.4zM775.4 530.2h1.8v6.8h-1.8zM774.6 522.7h3.4v2.4h-3.4zM775.4 522.7h1.8v5.4h-1.8zM782.2 530.2h3.9v6.8h-3.9zM782.2 522.7h3.9v5.4h-3.9zM789.5 530.2h3.9v6.8h-3.9zM789.5 522.7h3.9v5.4h-3.9zM797.4 530.2h3.9v6.8h-3.9zM797.4 522.7h3.9v5.4h-3.9zM804 530.2h3.9v6.8h-3.9zM804 522.7h3.9v5.4h-3.9zM811.9 530.2h3.9v6.8h-3.9zM811.9 522.7h3.9v5.4h-3.9zM819.8 530.2h3.9v6.8h-3.9zM819.8 522.7h3.9v5.4h-3.9zM827 530.2h3.9v6.8h-3.9zM827 522.7h3.9v5.4h-3.9zM835.2 530.2h3.4v2.4h-3.4zM836 530.2h1.8v6.8h-1.8zM835.2 522.7h3.4v2.4h-3.4zM836 522.7h1.8v5.4h-1.8zM843 530.2h3.4v2.4h-3.4zM843.8 530.2h1.8v6.8h-1.8zM843 522.7h3.4v2.4h-3.4zM843.8 522.7h1.8v5.4h-1.8zM884 530.2h3.9v6.8h-3.9zM884.1 522.7h3.8v3.4h-3.8zM890.7 530.2h3.9v6.8h-3.9zM890.8 522.7h3.8v3.4h-3.8zM898 530.2h3.9v6.8h-3.9zM898 522.7h3.8v3.4h-3.8zM905.3 530.2h3.9v6.8h-3.9zM905.3 522.7h3.8v3.4h-3.8zM913.1 530.2h3.9v6.8h-3.9zM913.2 522.7h3.8v3.4h-3.8zM920.6 530.2h3.4v2.4h-3.4zM921.4 530.2h1.8v6.8h-1.8zM921.5 522.7h1.6v3.4h-1.6zM927.7 530.2h3.9v6.8h-3.9zM927.7 522.7h3.8v3.4h-3.8zM934.9 530.2h3.9v6.8h-3.9zM935 522.7h3.8v3.4h-3.8zM942.8 530.2h3.9v6.8h-3.9zM942.9 522.7h3.8v3.4h-3.8zM950.1 530.2h3.9v6.8h-3.9zM951.2 522.7h1.6v3.4h-1.6zM959 528.7h3.9v8.6h-3.9zM959 522.7h3.9v5.4h-3.9zM966 528.7h3.4v2.4h-3.4zM966.8 528.7h1.8v8.6h-1.8zM966 522.7h3.4v2.4h-3.4zM966.8 522.7h1.8v5.4h-1.8zM972.4 528.7h3.9v8.6h-3.9zM972.4 522.7h3.9v5.4h-3.9zM979.7 528.7h3.9v8.6h-3.9zM979.7 522.7h3.9v5.4h-3.9zM987.5 528.7h3.9v8.6h-3.9zM987.5 522.7h3.9v5.4h-3.9zM995.4 528.7h3.9v8.6h-3.9zM995.4 522.7h3.9v5.4h-3.9zM1002.9 528.7h3.4v2.4h-3.4zM1003.7 528.7h1.8v8.6h-1.8zM1002.9 522.7h3.4v2.4h-3.4zM1003.7 522.7h1.8v5.4h-1.8zM1010.8 528.7h3.4v2.4h-3.4zM1011.6 528.7h1.8v8.6h-1.8zM1010.8 522.7h3.4v2.4h-3.4zM1011.6 522.7h1.8v5.4h-1.8zM1018.1 528.7h3.4v2.4h-3.4zM1018.9 528.7h1.8v8.6h-1.8zM1018.1 522.7h3.4v2.4h-3.4zM1018.9 522.7h1.8v5.4h-1.8zM1025.7 528.7h3.9v8.6h-3.9zM1025.7 522.7h3.9v5.4h-3.9zM1032.9 528.7h3.9v8.6h-3.9zM1032.9 522.7h3.9v5.4h-3.9zM1040.5 528.7h3.4v2.4h-3.4zM1041.3 528.7h1.8v8.6h-1.8zM1040.5 522.7h3.4v2.4h-3.4zM1041.3 522.7h1.8v5.4h-1.8zM1047.5 528.7h3.9v8.6h-3.9zM1047.5 522.7h3.9v5.4h-3.9zM1054.8 528.7h3.9v8.6h-3.9zM1054.8 522.7h3.9v5.4h-3.9zM1062.3 528.7h3.4v2.4h-3.4zM1063.1 528.7h1.8v8.6h-1.8zM1062.3 522.7h3.4v2.4h-3.4zM1063.1 522.7h1.8v5.4h-1.8zM1069.9 528.7h3.9v8.6h-3.9zM1069.9 522.7h3.9v5.4h-3.9zM1078 528.7h3.4v2.4h-3.4zM1078.8 528.7h1.8v8.6h-1.8zM1078 522.7h3.4v2.4h-3.4zM1078.8 522.7h1.8v5.4h-1.8zM1084.7 528.7h3.4v2.4h-3.4zM1085.5 528.7h1.8v8.6h-1.8zM1084.7 522.7h3.4v2.4h-3.4zM1085.5 522.7h1.8v5.4h-1.8zM1092 528.7h3.4v2.4h-3.4zM1092.8 528.7h1.8v8.6h-1.8zM1092 522.7h3.4v2.4h-3.4zM1092.8 522.7h1.8v5.4h-1.8zM1099.2 528.7h3.4v2.4h-3.4zM1100 528.7h1.8v8.6h-1.8zM1099.2 522.7h3.4v2.4h-3.4zM1100 522.7h1.8v5.4h-1.8zM1110.5 531.8h4.5v2.4h-4.5zM1117 530.2h3.9v6.8h-3.9zM1117 522.7h3.9v5.4h-3.9zM1124.3 530.2h3.9v6.8h-3.9zM1124.3 522.7h3.9v5.4h-3.9zM1131.6 530.2h3.9v6.8h-3.9zM1131.6 522.7h3.9v5.4h-3.9zM1139.5 530.2h3.9v6.8h-3.9zM1139.5 522.7h3.9v5.4h-3.9zM1146.1 530.2h3.9v6.8h-3.9zM1146.1 522.7h3.9v5.4h-3.9zM1155.5 524.8h2.6v2.4h-2.6zM1155.5 531.8h2.6v2.4h-2.6zM1160.5 524.8h2.6v2.4h-2.6zM1160.5 531.8h2.6v2.4h-2.6z"/>
<path fill="#e6f5ff" fill-opacity=".5" d="M35.2 530.7h1.2v4.8h-1.2zM35.2 523.2h1.2v3.4h-1.2zM42.3 531h2.7v4.6h-2.7zM42.3 523.5h2.7v3.2h-2.7zM49.6 531h2.7v4.6h-2.7zM49.6 523.5h2.7v3.2h-2.7zM57.5 531h2.7v4.6h-2.7zM57.5 523.5h2.7v3.2h-2.7zM64.7 531h2.7v4.6h-2.7zM64.7 523.5h2.7v3.2h-2.7zM73.4 530.7h1.2v4.8h-1.2zM73.4 523.2h1.2v3.4h-1.2zM80 530.7h1.2v4.8h-1.2zM80 523.2h1.2v3.4h-1.2zM86.5 531h2.7v4.6h-2.7zM86.5 523.5h2.7v3.2h-2.7zM94.6 530.7h1.2v4.8h-1.2zM94.6 523.2h1.2v3.4h-1.2zM101.1 531h2.7v4.6h-2.7zM101.1 523.5h2.7v3.2h-2.7zM107.2 531h2.7v4.6h-2.7zM114.5 531h2.7v4.6h-2.7zM122.4 531h2.7v4.6h-2.7zM129.1 531h2.7v4.6h-2.7zM136.5 530.7h1.2v4.8h-1.2zM143 531h2.7v4.6h-2.7zM151.6 530.7h1.2v4.8h-1.2zM158.1 531h2.7v4.6h-2.7zM166 531h2.7v4.6h-2.7zM174 530.7h1.2v4.8h-1.2zM181.3 530.7h1.2v4.8h-1.2zM187.8 531h2.7v4.6h-2.7zM195.8 530.7h1.2v4.8h-1.2zM202.4 531h2.7v4.6h-2.7zM211 530.7h1.2v4.8h-1.2zM217.5 531h2.7v4.6h-2.7zM225.4 531h2.7v4.6h-2.7zM233.4 530.7h1.2v4.8h-1.2zM240.1 530.7h1.2v4.8h-1.2zM246.6 531h2.7v4.6h-2.7zM253.9 531h2.7v4.6h-2.7zM261.9 530.7h1.2v4.8h-1.2zM268.4 531h2.7v4.6h-2.7zM275.8 530.7h1.2v4.8h-1.2zM282.9 531h2.7v4.6h-2.7zM291.6 530.7h1.2v4.8h-1.2zM297.5 531h2.7v4.6h-2.7zM304.1 531h2.7v4.6h-2.7zM311.4 531h2.7v4.6h-2.7zM318.1 531h2.7v4.6h-2.7zM325.5 530.7h1.2v4.8h-1.2zM332.4 530.7h1.2v4.8h-1.2zM332.4 523.2h1.2v3.4h-1.2zM338.3 531h2.7v4.6h-2.7zM338.3 523.5h2.7v3.2h-2.7zM346.3 530.7h1.2v4.8h-1.2zM346.3 523.2h1.2v3.4h-1.2zM352.3 531h2.7v4.6h-2.7zM352.3 523.5h2.7v3.2h-2.7zM358.9 531h2.7v4.6h-2.7zM358.9 523.5h2.7v3.2h-2.7zM366.9 530.7h1.2v4.8h-1.2zM366.9 523.2h1.2v3.4h-1.2zM373.5 531h2.7v4.6h-2.7zM373.5 523.5h2.7v3.2h-2.7zM380.1 531h2.7v4.6h-2.7zM380.1 523.5h2.7v3.2h-2.7zM387.4 531h2.7v4.6h-2.7zM387.4 523.5h2.7v3.2h-2.7zM394.8 530.7h1.2v4.8h-1.2zM394.8 523.2h1.2v3.4h-1.2zM402.1 530.7h1.2v4.8h-1.2zM402.1 523.2h1.2v3.4h-1.2zM408.6 531h2.7v4.6h-2.7zM408.6 523.5h2.7v3.2h-2.7zM416.5 531h2.7v4.6h-2.7zM416.5 523.5h2.7v3.2h-2.7zM425.1 530.7h1.2v4.8h-1.2zM425.1 523.2h1.2v3.4h-1.2zM431 531h2.7v4.6h-2.7zM431 523.5h2.7v3.2h-2.7zM439 530.7h1.2v4.8h-1.2zM439 523.2h1.2v3.4h-1.2zM446.3 530.7h1.2v4.8h-1.2zM446.3 523.2h1.2v3.4h-1.2zM453 530.7h1.2v4.8h-1.2zM453 523.2h1.2v3.4h-1.2zM458.9 531h2.7v4.6h-2.7zM458.9 523.5h2.7v3.2h-2.7zM466.8 531h2.7v4.6h-2.7zM466.8 523.5h2.7v3.2h-2.7zM473.5 531h2.7v4.6h-2.7zM473.5 523.5h2.7v3.2h-2.7zM478.7 531h2.7v4.6h-2.7zM486.5 531h2.7v4.6h-2.7zM494.4 531h2.7v4.6h-2.7zM501.7 531h2.7v4.6h-2.7zM508.9 531h2.7v4.6h-2.7zM516.9 530.7h1.2v4.8h-1.2zM524.2 530.7h1.2v4.8h-1.2zM530.7 531h2.7v4.6h-2.7zM538.8 530.7h1.2v4.8h-1.2zM545.3 531h2.7v4.6h-2.7zM552.5 531h2.7v4.6h-2.7zM560.4 531h2.7v4.6h-2.7zM567.1 531h2.7v4.6h-2.7zM575 531h2.7v4.6h-2.7zM582.2 531h2.7v4.6h-2.7zM589.5 531h2.7v4.6h-2.7zM597.4 531h2.7v4.6h-2.7zM604 531h2.7v4.6h-2.7zM612.1 530.7h1.2v4.8h-1.2zM618.6 531h2.7v4.6h-2.7zM625.8 531h2.7v4.6h-2.7zM633.7 531h2.7v4.6h-2.7zM640.4 531h2.7v4.6h-2.7zM647.7 531h2.7v4.6h-2.7zM654.9 531h2.7v4.6h-2.7zM662.8 531h2.7v4.6h-2.7zM669.5 531h2.7v4.6h-2.7zM676.7 531h2.7v4.6h-2.7zM683.4 531h2.7v4.6h-2.7zM690.1 531h2.7v4.6h-2.7zM701.6 531h2.7v4.6h-2.7zM701.6 523.5h2.7v3.2h-2.7zM708.9 531h2.7v4.6h-2.7zM708.9 523.5h2.7v3.2h-2.7zM716.9 530.7h1.2v4.8h-1.2zM716.9 523.2h1.2v3.4h-1.2zM723.5 531h2.7v4.6h-2.7zM723.5 523.5h2.7v3.2h-2.7zM730.1 531h2.7v4.6h-2.7zM730.1 523.5h2.7v3.2h-2.7zM738 531h2.7v4.6h-2.7zM738 523.5h2.7v3.2h-2.7zM744.7 531h2.7v4.6h-2.7zM744.7 523.5h2.7v3.2h-2.7zM753.3 530.7h1.2v4.8h-1.2zM753.3 523.2h1.2v3.4h-1.2zM760.4 531h2.7v4.6h-2.7zM760.4 523.5h2.7v3.2h-2.7zM768.3 531h2.7v4.6h-2.7zM768.3 523.5h2.7v3.2h-2.7zM775.7 530.7h1.2v4.8h-1.2zM775.7 523.2h1.2v3.4h-1.2zM782.8 531h2.7v4.6h-2.7zM782.8 523.5h2.7v3.2h-2.7zM790.1 531h2.7v4.6h-2.7zM790.1 523.5h2.7v3.2h-2.7zM798 531h2.7v4.6h-2.7zM798 523.5h2.7v3.2h-2.7zM804.6 531h2.7v4.6h-2.7zM804.6 523.5h2.7v3.2h-2.7zM812.5 531h2.7v4.6h-2.7zM812.5 523.5h2.7v3.2h-2.7zM820.4 531h2.7v4.6h-2.7zM820.4 523.5h2.7v3.2h-2.7zM827.6 531h2.7v4.6h-2.7zM827.6 523.5h2.7v3.2h-2.7zM836.3 530.7h1.2v4.8h-1.2zM836.3 523.2h1.2v3.4h-1.2zM844.1 530.7h1.2v4.8h-1.2zM844.1 523.2h1.2v3.4h-1.2zM856 534.3h3v2.2h-3zM862.5 534.3h3v2.2h-3zM869 534.3h3v2.2h-3zM875 534.3h3v2.2h-3zM884.6 531h2.7v4.6h-2.7zM891.3 531h2.7v4.6h-2.7zM898.6 531h2.7v4.6h-2.7zM905.9 531h2.7v4.6h-2.7zM913.7 531h2.7v4.6h-2.7zM921.7 530.7h1.2v4.8h-1.2zM928.3 531h2.7v4.6h-2.7zM935.5 531h2.7v4.6h-2.7zM943.4 531h2.7v4.6h-2.7zM950.7 531h2.7v4.6h-2.7zM959.6 529.5h2.7v6.4h-2.7zM959.6 523.5h2.7v3.2h-2.7zM967.1 529.2h1.2v6.6h-1.2zM967.1 523.2h1.2v3.4h-1.2zM973 529.5h2.7v6.4h-2.7zM973 523.5h2.7v3.2h-2.7zM980.3 529.5h2.7v6.4h-2.7zM980.3 523.5h2.7v3.2h-2.7zM988.1 529.5h2.7v6.4h-2.7zM988.1 523.5h2.7v3.2h-2.7zM996 529.5h2.7v6.4h-2.7zM996 523.5h2.7v3.2h-2.7zM1004 529.2h1.2v6.6h-1.2zM1004 523.2h1.2v3.4h-1.2zM1011.9 529.2h1.2v6.6h-1.2zM1011.9 523.2h1.2v3.4h-1.2zM1019.2 529.2h1.2v6.6h-1.2zM1019.2 523.2h1.2v3.4h-1.2zM1026.3 529.5h2.7v6.4h-2.7zM1026.3 523.5h2.7v3.2h-2.7zM1033.5 529.5h2.7v6.4h-2.7zM1033.5 523.5h2.7v3.2h-2.7zM1041.6 529.2h1.2v6.6h-1.2zM1041.6 523.2h1.2v3.4h-1.2zM1048.1 529.5h2.7v6.4h-2.7zM1048.1 523.5h2.7v3.2h-2.7zM1055.4 529.5h2.7v6.4h-2.7zM1055.4 523.5h2.7v3.2h-2.7zM1063.4 529.2h1.2v6.6h-1.2zM1063.4 523.2h1.2v3.4h-1.2zM1070.5 529.5h2.7v6.4h-2.7zM1070.5 523.5h2.7v3.2h-2.7zM1079.1 529.2h1.2v6.6h-1.2zM1079.1 523.2h1.2v3.4h-1.2zM1085.8 529.2h1.2v6.6h-1.2zM1085.8 523.2h1.2v3.4h-1.2zM1093.1 529.2h1.2v6.6h-1.2zM1093.1 523.2h1.2v3.4h-1.2zM1100.3 529.2h1.2v6.6h-1.2zM1100.3 523.2h1.2v3.4h-1.2zM1117.6 531h2.7v4.6h-2.7zM1117.6 523.5h2.7v3.2h-2.7zM1124.9 531h2.7v4.6h-2.7zM1124.9 523.5h2.7v3.2h-2.7zM1132.2 531h2.7v4.6h-2.7zM1132.2 523.5h2.7v3.2h-2.7zM1140.1 531h2.7v4.6h-2.7zM1140.1 523.5h2.7v3.2h-2.7zM1146.7 531h2.7v4.6h-2.7zM1146.7 523.5h2.7v3.2h-2.7z"/>
<path fill="#e6f5ff" fill-opacity=".3" d="M114.7 523.4h2.4v2h-2.4zM122.5 523.4h2.4v2h-2.4zM129.2 523.4h2.4v2h-2.4zM143.2 523.4h2.4v2h-2.4zM151 523.4h2.4v2h-2.4zM158.3 523.4h2.4v2h-2.4zM166.2 523.4h2.4v2h-2.4zM173.4 523.4h2.4v2h-2.4zM180.7 523.4h2.4v2h-2.4zM195.2 523.4h2.4v2h-2.4zM202.5 523.4h2.4v2h-2.4zM210.4 523.4h2.4v2h-2.4zM217.7 523.4h2.4v2h-2.4zM225.5 523.4h2.4v2h-2.4zM232.8 523.4h2.4v2h-2.4zM246.7 523.4h2.4v2h-2.4zM261.3 523.4h2.4v2h-2.4zM268.5 523.4h2.4v2h-2.4zM275.2 523.4h2.4v2h-2.4zM283.1 523.4h2.4v2h-2.4zM297.6 523.4h2.4v2h-2.4zM304.3 523.4h2.4v2h-2.4zM311.6 523.4h2.4v2h-2.4zM324.9 523.4h2.4v2h-2.4zM478.8 523.4h2.4v2h-2.4zM486.7 523.4h2.4v2h-2.4zM494.5 523.4h2.4v2h-2.4zM501.8 523.4h2.4v2h-2.4zM509.1 523.4h2.4v2h-2.4zM516.3 523.4h2.4v2h-2.4zM523.6 523.4h2.4v2h-2.4zM530.9 523.4h2.4v2h-2.4zM538.2 523.4h2.4v2h-2.4zM545.4 523.4h2.4v2h-2.4zM552.7 523.4h2.4v2h-2.4zM567.2 523.4h2.4v2h-2.4zM575.1 523.4h2.4v2h-2.4zM582.4 523.4h2.4v2h-2.4zM589.6 523.4h2.4v2h-2.4zM597.5 523.4h2.4v2h-2.4zM604.2 523.4h2.4v2h-2.4zM611.5 523.4h2.4v2h-2.4zM618.7 523.4h2.4v2h-2.4zM626 523.4h2.4v2h-2.4zM633.9 523.4h2.4v2h-2.4zM640.5 523.4h2.4v2h-2.4zM647.8 523.4h2.4v2h-2.4zM655.1 523.4h2.4v2h-2.4zM662.9 523.4h2.4v2h-2.4zM669.6 523.4h2.4v2h-2.4zM676.9 523.4h2.4v2h-2.4zM683.6 523.4h2.4v2h-2.4zM690.2 523.4h2.4v2h-2.4zM884.8 523.4h2.4v2h-2.4zM891.5 523.4h2.4v2h-2.4zM898.7 523.4h2.4v2h-2.4zM906 523.4h2.4v2h-2.4zM913.9 523.4h2.4v2h-2.4zM928.4 523.4h2.4v2h-2.4zM935.7 523.4h2.4v2h-2.4zM943.6 523.4h2.4v2h-2.4z"/>
<text class="lab" x="38.2" y="24.9">FngrBass</text>
<text class="lab" x="38.2" y="84.6">ElPiano1</text>
<text class="lab" x="38.2" y="144.3">AltoSax</text>
<text class="lab" x="38.2" y="204">AahChoir</text>
<text class="lab" x="38.2" y="263.7">Ensmble1</text>
<text class="lab" x="38.2" y="323.5">JazzGtr</text>
<text class="lab" x="38.2" y="383.2">MuteGtr</text>
<text class="lab" x="38.2" y="442.9">CleanGtr</text>
<text class="lab" x="38.2" y="502.6">GM Drums</text>
<g stroke="#fff" stroke-width="1">
<line x1="14.5" y1="551.6" x2="14.5" y2="556.6"/>
<line x1="154.5" y1="551.6" x2="154.5" y2="556.6"/>
<line x1="295.5" y1="551.6" x2="295.5" y2="556.6"/>
<line x1="435.5" y1="551.6" x2="435.5" y2="556.6"/>
<line x1="575.5" y1="551.6" x2="575.5" y2="556.6"/>
<line x1="715.5" y1="551.6" x2="715.5" y2="556.6"/>
<line x1="855.5" y1="551.6" x2="855.5" y2="556.6"/>
<line x1="995.5" y1="551.6" x2="995.5" y2="556.6"/>
<line x1="1135.5" y1="551.6" x2="1135.5" y2="556.6"/>
</g>
<text class="tk" x="14.4" y="572">0</text>
<text class="tk" x="154.5" y="572">25</text>
<text class="tk" x="294.6" y="572">50</text>
<text class="tk" x="434.7" y="572">75</text>
<text class="tk" x="574.8" y="572">100</text>
<text class="tk" x="714.9" y="572">125</text>
<text class="tk" x="855" y="572">150</text>
<text class="tk" x="995.1" y="572">175</text>
<text class="tk" x="1135.2" y="572">200</text>
<text class="tk" x="597.8" y="590.7">Temps (secondes)</text>
<g fill="#3b3b3b">
<ellipse cx="522.6" cy="574.6" rx="19.8" ry="10.3"/>
<ellipse cx="570.8" cy="574.6" rx="19.8" ry="10.3"/>
<ellipse cx="618.6" cy="574.6" rx="19.8" ry="10.3"/>
<ellipse cx="666.9" cy="574.6" rx="19.8" ry="10.3"/>
</g>
<g fill="none" stroke="#fff" stroke-width="2.6" stroke-linejoin="miter">
<path d="M516.2 569.8L516.4 580L529 574.8Z"/>
<path d="M562.4 569.6L583.6 574.8L562.4 580" stroke-width="3"/>
<path d="M674.2 569.8L674.2 580.4L661.4 574.8Z"/>
</g>
<rect x="608.8" y="570.2" width="21" height="10.5" fill="#fff"/>
</svg></body></html>
